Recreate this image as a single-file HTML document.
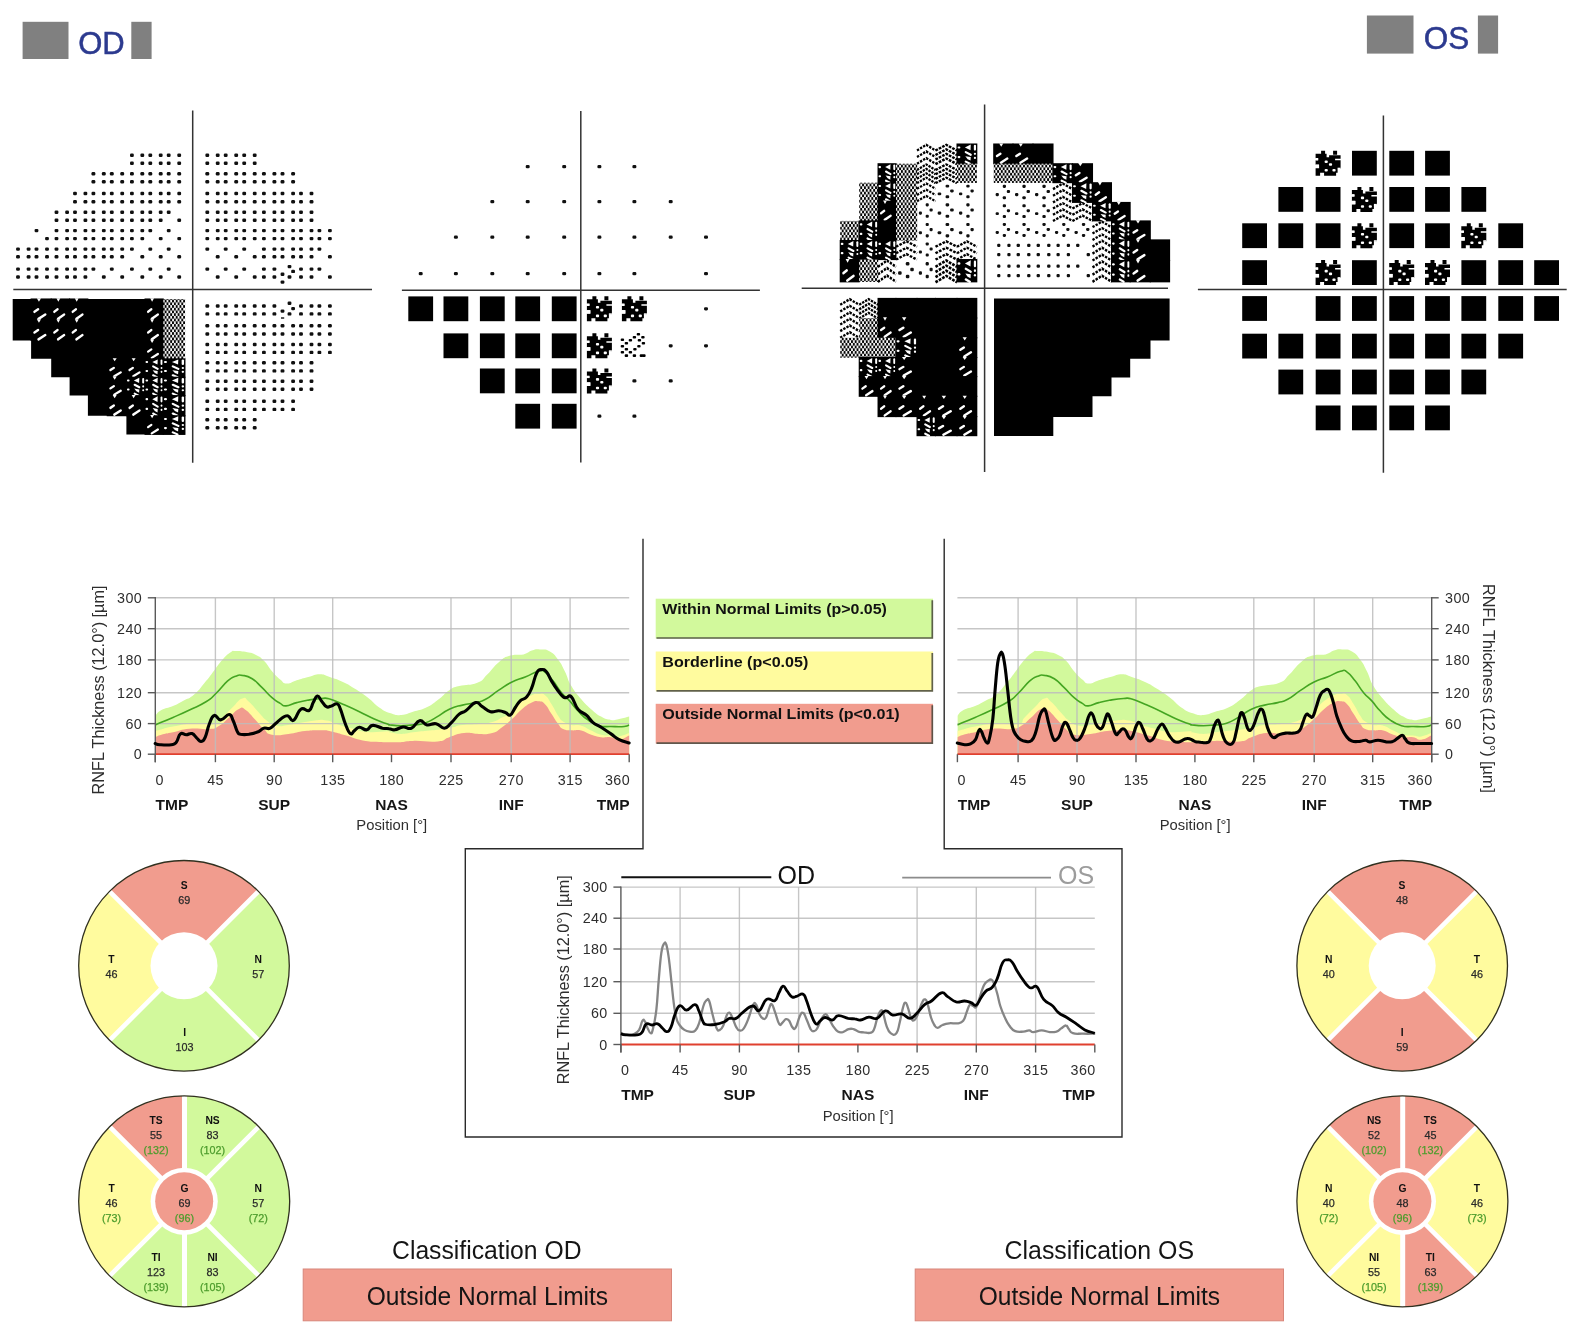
<!DOCTYPE html>
<html><head><meta charset="utf-8"><title>RNFL report</title>
<style>html,body{margin:0;padding:0;background:#fff;}body{width:1576px;height:1338px;overflow:hidden;font-family:"Liberation Sans",sans-serif;}svg{display:block;filter:blur(0.45px);}</style></head>
<body>
<svg width="1576" height="1338" viewBox="0 0 1576 1338" font-family="'Liberation Sans', sans-serif">
<rect width="1576" height="1338" fill="#fff"/>
<rect x="22.6" y="21.8" width="45.9" height="37.2" fill="#808080"/><rect x="131.3" y="21.8" width="20.3" height="37.2" fill="#808080"/><text x="78.2" y="54.4" font-size="31" fill="#2c3a8f" stroke="#2c3a8f" stroke-width="0.5">OD</text><rect x="1366.9" y="15.5" width="46.6" height="38.1" fill="#808080"/><rect x="1477.9" y="15.5" width="20.2" height="38.1" fill="#808080"/><text x="1423.7" y="49.3" font-size="31.5" fill="#2c3a8f" stroke="#2c3a8f" stroke-width="0.5">OS</text>
<defs><g id="dt"><rect x="-1.9" y="-1.7" width="3.8" height="3.4" rx="1.2" fill="#101010"/></g><g id="ds"><rect x="-1.6" y="-1.5" width="3.2" height="3" rx="1.1" fill="#101010"/></g><g id="dt2"><rect x="-2" y="-1.6" width="4" height="3.2" rx="1.3" fill="#101010"/></g><pattern id="chk" width="3.7" height="5.4" patternUnits="userSpaceOnUse"><rect width="3.7" height="5.4" fill="#fff"/><rect x="0" y="0" width="1.95" height="2.8" rx="0.5" fill="#000"/><rect x="1.85" y="2.7" width="1.95" height="2.8" rx="0.5" fill="#000"/><rect x="-1.85" y="2.7" width="1.95" height="2.8" rx="0.5" fill="#000"/></pattern><g id="t1"><use href="#ds" x="5" y="5"/><use href="#ds" x="15" y="13.5"/></g><g id="t2"><use href="#ds" x="5" y="5"/><use href="#ds" x="15" y="5"/><use href="#ds" x="5" y="13.5"/><use href="#ds" x="15" y="13.5"/></g><g id="t3"><use href="#ds" x="10.5" y="3.5"/><use href="#ds" x="14.5" y="8.5"/><use href="#ds" x="3.5" y="11.5"/><use href="#ds" x="10.5" y="14.5"/></g><g id="t4" fill="none" stroke="#000" stroke-width="2.3" stroke-dasharray="2.4 1.2"><path d="M0,6.2 L9.5,0.8 L19,6.2"/><path d="M0,12.6 L9.5,7.2 L19,12.6"/><path d="M0,19 L9.5,13.6 L19,19"/></g><g id="t5" fill="none" stroke="#000" stroke-width="2.3" stroke-dasharray="2.4 1.0"><path d="M0,6.2 L9.5,0.8 L19,6.2"/><path d="M0,10.6 L9.5,5.2 L19,10.6"/><path d="M0,15 L9.5,9.6 L19,15"/><path d="M0,19.4 L9.5,14 L19,19.4"/></g><g id="t6"><rect x="-0.2" y="-0.2" width="19.5" height="19.5" fill="url(#chk)"/></g><g id="t7"><rect x="-0.5" y="-0.5" width="20" height="20" fill="#000"/><g stroke="#fff" stroke-width="2.1" stroke-linecap="round" fill="#fff"><path d="M1.6,3.4 l0.6,0"/><path d="M1.6,12.6 l0.6,0"/><path d="M7.6,3.4 L13.2,0.6 L13,6 Z" stroke="none"/><path d="M17.2,1.8 v3.6"/><path d="M17.2,9.4 l0,0.1"/><path d="M8.4,7.8 L13.2,10.4"/><path d="M8,11.8 L13.2,12.6 L13,16 L10.2,14.6 Z" stroke="none"/><path d="M17.2,13.4 l0,0.1"/><path d="M8.4,17 L12.4,19"/></g></g><g id="t8"><rect x="-0.5" y="-0.5" width="20" height="20" fill="#000"/><path d="M5.4,-0.6 L7.4,2.6 L9.4,-0.6 Z" fill="#fff"/><g stroke="#fff" stroke-width="2.3" stroke-linecap="round"><path d="M3.2,11.6 L6.6,9.3"/><path d="M7,18 L13.4,14"/></g></g><g id="t9"><rect x="-0.5" y="-0.5" width="20" height="20" fill="#000"/></g><g id="sq"><rect x="-12.4" y="-12.4" width="24.8" height="24.8" fill="#000"/></g><g id="hs"><path fill="#000" d="M-7,-12.5 h4 v4 h-4 z M5,-12.5 h4 v4 h-4 z M-12.5,-9.5 h11 v4.5 h-11 z M1,-8 h11.5 v3.5 h-11.5 z M-10,-6 h17 v4 h-17 z M-12.5,-3 h25 v4.5 h-25 z M-9,1 h21.5 v4.5 h-21.5 z M-12.5,5 h22 v4.5 h-22 z M-12.5,8.5 h4.5 v4 h-4.5 z M-4,8.5 h12 v4 h-12 z"/><g fill="#fff"><rect x="-3.5" y="-2.8" width="3.2" height="2.6" rx="1"/><rect x="0.8" y="0" width="3.2" height="2.6" rx="1"/><rect x="-3.5" y="5.8" width="3.2" height="2.6" rx="1"/><rect x="4.3" y="5.8" width="3.2" height="2.6" rx="1"/><rect x="-12.5" y="-5.2" width="2.6" height="2.4"/><rect x="-12.5" y="1.3" width="3.4" height="3.4"/><rect x="9.5" y="4.5" width="3" height="1.5"/></g></g><g id="dg"><rect x="2.3" y="-12.8" width="3.4" height="2.6" rx="1" fill="#000"/><rect x="-1.7" y="-9.8" width="3.4" height="2.6" rx="1" fill="#000"/><rect x="6.8" y="-9.8" width="3.4" height="2.6" rx="1" fill="#000"/><rect x="-5.7" y="-6.8" width="3.4" height="2.6" rx="1" fill="#000"/><rect x="3.3" y="-6.8" width="3.4" height="2.6" rx="1" fill="#000"/><rect x="-13.7" y="-7.3" width="3.4" height="2.6" rx="1" fill="#000"/><rect x="-9.7" y="-3.8" width="3.4" height="2.6" rx="1" fill="#000"/><rect x="7.3" y="-3.8" width="3.4" height="2.6" rx="1" fill="#000"/><rect x="-13.7" y="-0.8" width="3.4" height="2.6" rx="1" fill="#000"/><rect x="2.8" y="-0.8" width="3.4" height="2.6" rx="1" fill="#000"/><rect x="-9.7" y="2.2" width="3.4" height="2.6" rx="1" fill="#000"/><rect x="-1.2" y="2.2" width="3.4" height="2.6" rx="1" fill="#000"/><rect x="-13.7" y="5.2" width="3.4" height="2.6" rx="1" fill="#000"/><rect x="-5.7" y="5.2" width="3.4" height="2.6" rx="1" fill="#000"/><rect x="-9.7" y="8.5" width="3.4" height="2.6" rx="1" fill="#000"/><rect x="-1.7" y="8.5" width="3.4" height="2.6" rx="1" fill="#000"/><rect x="5.3" y="8.5" width="3.4" height="2.6" rx="1" fill="#000"/><rect x="7.8" y="8.5" width="3.4" height="2.6" rx="1" fill="#000"/></g></defs><line x1="192.7" y1="110.5" x2="192.7" y2="462.8" stroke="#333" stroke-width="1.5"/><line x1="13.3" y1="289.4" x2="372.0" y2="289.4" stroke="#333" stroke-width="1.5"/><use href="#dt" x="131.9" y="155.2"/><use href="#dt" x="142.3" y="155.2"/><use href="#dt" x="150.3" y="155.2"/><use href="#dt" x="160.7" y="155.2"/><use href="#dt" x="168.7" y="155.2"/><use href="#dt" x="179.2" y="155.2"/><use href="#dt" x="131.9" y="163.3"/><use href="#dt" x="142.3" y="163.3"/><use href="#dt" x="150.3" y="163.3"/><use href="#dt" x="160.7" y="163.3"/><use href="#dt" x="168.7" y="163.3"/><use href="#dt" x="179.2" y="163.3"/><use href="#dt" x="93.4" y="173.8"/><use href="#dt" x="103.8" y="173.8"/><use href="#dt" x="111.8" y="173.8"/><use href="#dt" x="122.2" y="173.8"/><use href="#dt" x="131.9" y="173.8"/><use href="#dt" x="142.3" y="173.8"/><use href="#dt" x="150.3" y="173.8"/><use href="#dt" x="160.7" y="173.8"/><use href="#dt" x="168.7" y="173.8"/><use href="#dt" x="179.2" y="173.8"/><use href="#dt" x="93.4" y="181.7"/><use href="#dt" x="103.8" y="181.7"/><use href="#dt" x="111.8" y="181.7"/><use href="#dt" x="122.2" y="181.7"/><use href="#dt" x="131.9" y="181.7"/><use href="#dt" x="142.3" y="181.7"/><use href="#dt" x="150.3" y="181.7"/><use href="#dt" x="160.7" y="181.7"/><use href="#dt" x="168.7" y="181.7"/><use href="#dt" x="179.2" y="181.7"/><use href="#dt" x="75.0" y="193.5"/><use href="#dt" x="85.4" y="193.5"/><use href="#dt" x="93.4" y="193.5"/><use href="#dt" x="103.8" y="193.5"/><use href="#dt" x="111.8" y="193.5"/><use href="#dt" x="122.2" y="193.5"/><use href="#dt" x="131.9" y="193.5"/><use href="#dt" x="142.3" y="193.5"/><use href="#dt" x="150.3" y="193.5"/><use href="#dt" x="160.7" y="193.5"/><use href="#dt" x="168.7" y="193.5"/><use href="#dt" x="179.2" y="193.5"/><use href="#dt" x="75.0" y="201.8"/><use href="#dt" x="85.4" y="201.8"/><use href="#dt" x="93.4" y="201.8"/><use href="#dt" x="103.8" y="201.8"/><use href="#dt" x="111.8" y="201.8"/><use href="#dt" x="122.2" y="201.8"/><use href="#dt" x="131.9" y="201.8"/><use href="#dt" x="142.3" y="201.8"/><use href="#dt" x="150.3" y="201.8"/><use href="#dt" x="160.7" y="201.8"/><use href="#dt" x="168.7" y="201.8"/><use href="#dt" x="179.2" y="201.8"/><use href="#dt" x="56.5" y="212.3"/><use href="#dt" x="67.1" y="212.3"/><use href="#dt" x="75.0" y="212.3"/><use href="#dt" x="85.4" y="212.3"/><use href="#dt" x="93.4" y="212.3"/><use href="#dt" x="103.8" y="212.3"/><use href="#dt" x="111.8" y="212.3"/><use href="#dt" x="122.2" y="212.3"/><use href="#dt" x="131.9" y="212.3"/><use href="#dt" x="142.3" y="212.3"/><use href="#dt" x="150.3" y="212.3"/><use href="#dt" x="160.7" y="212.3"/><use href="#dt" x="168.7" y="212.3"/><use href="#dt" x="56.5" y="220.2"/><use href="#dt" x="67.1" y="220.2"/><use href="#dt" x="75.0" y="220.2"/><use href="#dt" x="85.4" y="220.2"/><use href="#dt" x="93.4" y="220.2"/><use href="#dt" x="103.8" y="220.2"/><use href="#dt" x="111.8" y="220.2"/><use href="#dt" x="122.2" y="220.2"/><use href="#dt" x="131.9" y="220.2"/><use href="#dt" x="142.3" y="220.2"/><use href="#dt" x="150.3" y="220.2"/><use href="#dt" x="160.7" y="220.2"/><use href="#dt" x="179.2" y="220.2"/><use href="#dt" x="36.5" y="230.6"/><use href="#dt" x="56.5" y="230.6"/><use href="#dt" x="67.1" y="230.6"/><use href="#dt" x="75.0" y="230.6"/><use href="#dt" x="85.4" y="230.6"/><use href="#dt" x="93.4" y="230.6"/><use href="#dt" x="103.8" y="230.6"/><use href="#dt" x="111.8" y="230.6"/><use href="#dt" x="122.2" y="230.6"/><use href="#dt" x="131.9" y="230.6"/><use href="#dt" x="142.3" y="230.6"/><use href="#dt" x="150.3" y="230.6"/><use href="#dt" x="168.7" y="230.6"/><use href="#dt" x="47.0" y="238.6"/><use href="#dt" x="56.5" y="238.6"/><use href="#dt" x="67.1" y="238.6"/><use href="#dt" x="75.0" y="238.6"/><use href="#dt" x="85.4" y="238.6"/><use href="#dt" x="93.4" y="238.6"/><use href="#dt" x="103.8" y="238.6"/><use href="#dt" x="111.8" y="238.6"/><use href="#dt" x="122.2" y="238.6"/><use href="#dt" x="131.9" y="238.6"/><use href="#dt" x="142.3" y="238.6"/><use href="#dt" x="160.7" y="238.6"/><use href="#dt" x="179.2" y="238.6"/><use href="#dt" x="18.0" y="249.1"/><use href="#dt" x="28.6" y="249.1"/><use href="#dt" x="36.5" y="249.1"/><use href="#dt" x="47.0" y="249.1"/><use href="#dt" x="56.5" y="249.1"/><use href="#dt" x="67.1" y="249.1"/><use href="#dt" x="75.0" y="249.1"/><use href="#dt" x="85.4" y="249.1"/><use href="#dt" x="93.4" y="249.1"/><use href="#dt" x="103.8" y="249.1"/><use href="#dt" x="111.8" y="249.1"/><use href="#dt" x="122.2" y="249.1"/><use href="#dt" x="131.9" y="249.1"/><use href="#dt" x="150.3" y="249.1"/><use href="#dt" x="168.7" y="249.1"/><use href="#dt" x="18.0" y="256.8"/><use href="#dt" x="28.6" y="256.8"/><use href="#dt" x="36.5" y="256.8"/><use href="#dt" x="47.0" y="256.8"/><use href="#dt" x="56.5" y="256.8"/><use href="#dt" x="67.1" y="256.8"/><use href="#dt" x="75.0" y="256.8"/><use href="#dt" x="85.4" y="256.8"/><use href="#dt" x="93.4" y="256.8"/><use href="#dt" x="103.8" y="256.8"/><use href="#dt" x="111.8" y="256.8"/><use href="#dt" x="122.2" y="256.8"/><use href="#dt" x="142.3" y="256.8"/><use href="#dt" x="160.7" y="256.8"/><use href="#dt" x="179.2" y="256.8"/><use href="#dt" x="18.0" y="269.1"/><use href="#dt" x="28.6" y="269.1"/><use href="#dt" x="36.5" y="269.1"/><use href="#dt" x="47.0" y="269.1"/><use href="#dt" x="56.5" y="269.1"/><use href="#dt" x="67.1" y="269.1"/><use href="#dt" x="75.0" y="269.1"/><use href="#dt" x="85.4" y="269.1"/><use href="#dt" x="93.4" y="269.1"/><use href="#dt" x="111.8" y="269.1"/><use href="#dt" x="131.9" y="269.1"/><use href="#dt" x="150.3" y="269.1"/><use href="#dt" x="168.7" y="269.1"/><use href="#dt" x="18.0" y="277.0"/><use href="#dt" x="28.6" y="277.0"/><use href="#dt" x="36.5" y="277.0"/><use href="#dt" x="47.0" y="277.0"/><use href="#dt" x="56.5" y="277.0"/><use href="#dt" x="67.1" y="277.0"/><use href="#dt" x="75.0" y="277.0"/><use href="#dt" x="85.4" y="277.0"/><use href="#dt" x="103.8" y="277.0"/><use href="#dt" x="122.2" y="277.0"/><use href="#dt" x="142.3" y="277.0"/><use href="#dt" x="160.7" y="277.0"/><use href="#dt" x="179.2" y="277.0"/><use href="#dt" x="207.3" y="155.2"/><use href="#dt" x="217.7" y="155.2"/><use href="#dt" x="225.7" y="155.2"/><use href="#dt" x="236.2" y="155.2"/><use href="#dt" x="244.2" y="155.2"/><use href="#dt" x="254.7" y="155.2"/><use href="#dt" x="207.3" y="163.3"/><use href="#dt" x="217.7" y="163.3"/><use href="#dt" x="225.7" y="163.3"/><use href="#dt" x="236.2" y="163.3"/><use href="#dt" x="244.2" y="163.3"/><use href="#dt" x="254.7" y="163.3"/><use href="#dt" x="207.3" y="173.8"/><use href="#dt" x="217.7" y="173.8"/><use href="#dt" x="225.7" y="173.8"/><use href="#dt" x="236.2" y="173.8"/><use href="#dt" x="244.2" y="173.8"/><use href="#dt" x="254.7" y="173.8"/><use href="#dt" x="263.9" y="173.8"/><use href="#dt" x="274.4" y="173.8"/><use href="#dt" x="282.5" y="173.8"/><use href="#dt" x="293.1" y="173.8"/><use href="#dt" x="207.3" y="181.7"/><use href="#dt" x="217.7" y="181.7"/><use href="#dt" x="225.7" y="181.7"/><use href="#dt" x="236.2" y="181.7"/><use href="#dt" x="244.2" y="181.7"/><use href="#dt" x="254.7" y="181.7"/><use href="#dt" x="263.9" y="181.7"/><use href="#dt" x="274.4" y="181.7"/><use href="#dt" x="282.5" y="181.7"/><use href="#dt" x="293.1" y="181.7"/><use href="#dt" x="207.3" y="193.5"/><use href="#dt" x="217.7" y="193.5"/><use href="#dt" x="225.7" y="193.5"/><use href="#dt" x="236.2" y="193.5"/><use href="#dt" x="244.2" y="193.5"/><use href="#dt" x="254.7" y="193.5"/><use href="#dt" x="263.9" y="193.5"/><use href="#dt" x="274.4" y="193.5"/><use href="#dt" x="282.5" y="193.5"/><use href="#dt" x="293.1" y="193.5"/><use href="#dt" x="301.0" y="193.5"/><use href="#dt" x="311.5" y="193.5"/><use href="#dt" x="207.3" y="201.8"/><use href="#dt" x="217.7" y="201.8"/><use href="#dt" x="225.7" y="201.8"/><use href="#dt" x="236.2" y="201.8"/><use href="#dt" x="244.2" y="201.8"/><use href="#dt" x="254.7" y="201.8"/><use href="#dt" x="263.9" y="201.8"/><use href="#dt" x="274.4" y="201.8"/><use href="#dt" x="282.5" y="201.8"/><use href="#dt" x="293.1" y="201.8"/><use href="#dt" x="301.0" y="201.8"/><use href="#dt" x="311.5" y="201.8"/><use href="#dt" x="207.3" y="212.3"/><use href="#dt" x="217.7" y="212.3"/><use href="#dt" x="225.7" y="212.3"/><use href="#dt" x="236.2" y="212.3"/><use href="#dt" x="244.2" y="212.3"/><use href="#dt" x="254.7" y="212.3"/><use href="#dt" x="263.9" y="212.3"/><use href="#dt" x="274.4" y="212.3"/><use href="#dt" x="282.5" y="212.3"/><use href="#dt" x="293.1" y="212.3"/><use href="#dt" x="301.0" y="212.3"/><use href="#dt" x="311.5" y="212.3"/><use href="#dt" x="207.3" y="220.2"/><use href="#dt" x="217.7" y="220.2"/><use href="#dt" x="225.7" y="220.2"/><use href="#dt" x="236.2" y="220.2"/><use href="#dt" x="244.2" y="220.2"/><use href="#dt" x="254.7" y="220.2"/><use href="#dt" x="263.9" y="220.2"/><use href="#dt" x="274.4" y="220.2"/><use href="#dt" x="282.5" y="220.2"/><use href="#dt" x="293.1" y="220.2"/><use href="#dt" x="301.0" y="220.2"/><use href="#dt" x="311.5" y="220.2"/><use href="#dt" x="207.3" y="230.6"/><use href="#dt" x="217.7" y="230.6"/><use href="#dt" x="225.7" y="230.6"/><use href="#dt" x="236.2" y="230.6"/><use href="#dt" x="244.2" y="230.6"/><use href="#dt" x="254.7" y="230.6"/><use href="#dt" x="263.9" y="230.6"/><use href="#dt" x="274.4" y="230.6"/><use href="#dt" x="282.5" y="230.6"/><use href="#dt" x="293.1" y="230.6"/><use href="#dt" x="301.0" y="230.6"/><use href="#dt" x="311.5" y="230.6"/><use href="#dt" x="319.4" y="230.6"/><use href="#dt" x="329.9" y="230.6"/><use href="#dt" x="207.3" y="238.6"/><use href="#dt" x="217.7" y="238.6"/><use href="#dt" x="225.7" y="238.6"/><use href="#dt" x="236.2" y="238.6"/><use href="#dt" x="244.2" y="238.6"/><use href="#dt" x="254.7" y="238.6"/><use href="#dt" x="263.9" y="238.6"/><use href="#dt" x="274.4" y="238.6"/><use href="#dt" x="282.5" y="238.6"/><use href="#dt" x="293.1" y="238.6"/><use href="#dt" x="301.0" y="238.6"/><use href="#dt" x="311.5" y="238.6"/><use href="#dt" x="319.4" y="238.6"/><use href="#dt" x="329.9" y="238.6"/><use href="#dt" x="207.3" y="249.1"/><use href="#dt" x="225.7" y="249.1"/><use href="#dt" x="244.2" y="249.1"/><use href="#dt" x="263.9" y="249.1"/><use href="#dt" x="274.4" y="249.1"/><use href="#dt" x="282.5" y="249.1"/><use href="#dt" x="293.1" y="249.1"/><use href="#dt" x="301.0" y="249.1"/><use href="#dt" x="311.5" y="249.1"/><use href="#dt" x="319.4" y="249.1"/><use href="#dt" x="217.7" y="256.8"/><use href="#dt" x="236.2" y="256.8"/><use href="#dt" x="254.7" y="256.8"/><use href="#dt" x="263.9" y="256.8"/><use href="#dt" x="274.4" y="256.8"/><use href="#dt" x="282.5" y="256.8"/><use href="#dt" x="293.1" y="256.8"/><use href="#dt" x="301.0" y="256.8"/><use href="#dt" x="311.5" y="256.8"/><use href="#dt" x="329.9" y="256.8"/><use href="#dt" x="207.3" y="269.1"/><use href="#dt" x="225.7" y="269.1"/><use href="#dt" x="244.2" y="269.1"/><use href="#dt" x="263.9" y="269.1"/><use href="#dt" x="274.4" y="269.1"/><use href="#dt" x="301.0" y="269.1"/><use href="#dt" x="311.5" y="269.1"/><use href="#dt" x="319.4" y="269.1"/><use href="#dt" x="217.7" y="277.0"/><use href="#dt" x="236.2" y="277.0"/><use href="#dt" x="254.7" y="277.0"/><use href="#dt" x="263.9" y="277.0"/><use href="#dt" x="274.4" y="277.0"/><use href="#dt" x="301.0" y="277.0"/><use href="#dt" x="311.5" y="277.0"/><use href="#dt" x="329.9" y="277.0"/><use href="#dt" x="289.5" y="266.6"/><use href="#dt" x="293.1" y="271.4"/><use href="#dt" x="282.5" y="274.2"/><use href="#dt" x="289.5" y="277.0"/><use href="#dt" x="282.5" y="282.1"/><use href="#dt" x="289.5" y="303.2"/><use href="#dt" x="293.1" y="308.6"/><use href="#dt" x="282.5" y="311.1"/><use href="#dt" x="289.5" y="313.9"/><rect x="281" y="317.3" width="3.2" height="1.4" fill="#101010"/><use href="#dt" x="207.3" y="306.0"/><use href="#dt" x="217.7" y="306.0"/><use href="#dt" x="225.7" y="306.0"/><use href="#dt" x="236.2" y="306.0"/><use href="#dt" x="244.2" y="306.0"/><use href="#dt" x="254.7" y="306.0"/><use href="#dt" x="263.9" y="306.0"/><use href="#dt" x="274.4" y="306.0"/><use href="#dt" x="301.0" y="306.0"/><use href="#dt" x="311.5" y="306.0"/><use href="#dt" x="319.4" y="306.0"/><use href="#dt" x="329.9" y="306.0"/><use href="#dt" x="207.3" y="313.9"/><use href="#dt" x="217.7" y="313.9"/><use href="#dt" x="225.7" y="313.9"/><use href="#dt" x="236.2" y="313.9"/><use href="#dt" x="244.2" y="313.9"/><use href="#dt" x="254.7" y="313.9"/><use href="#dt" x="263.9" y="313.9"/><use href="#dt" x="274.4" y="313.9"/><use href="#dt" x="301.0" y="313.9"/><use href="#dt" x="311.5" y="313.9"/><use href="#dt" x="319.4" y="313.9"/><use href="#dt" x="329.9" y="313.9"/><use href="#dt" x="207.3" y="325.7"/><use href="#dt" x="217.7" y="325.7"/><use href="#dt" x="225.7" y="325.7"/><use href="#dt" x="236.2" y="325.7"/><use href="#dt" x="244.2" y="325.7"/><use href="#dt" x="254.7" y="325.7"/><use href="#dt" x="263.9" y="325.7"/><use href="#dt" x="274.4" y="325.7"/><use href="#dt" x="282.5" y="325.7"/><use href="#dt" x="293.1" y="325.7"/><use href="#dt" x="301.0" y="325.7"/><use href="#dt" x="311.5" y="325.7"/><use href="#dt" x="319.4" y="325.7"/><use href="#dt" x="329.9" y="325.7"/><use href="#dt" x="207.3" y="334.0"/><use href="#dt" x="217.7" y="334.0"/><use href="#dt" x="225.7" y="334.0"/><use href="#dt" x="236.2" y="334.0"/><use href="#dt" x="244.2" y="334.0"/><use href="#dt" x="254.7" y="334.0"/><use href="#dt" x="263.9" y="334.0"/><use href="#dt" x="274.4" y="334.0"/><use href="#dt" x="282.5" y="334.0"/><use href="#dt" x="293.1" y="334.0"/><use href="#dt" x="301.0" y="334.0"/><use href="#dt" x="311.5" y="334.0"/><use href="#dt" x="319.4" y="334.0"/><use href="#dt" x="329.9" y="334.0"/><use href="#dt" x="207.3" y="344.5"/><use href="#dt" x="217.7" y="344.5"/><use href="#dt" x="225.7" y="344.5"/><use href="#dt" x="236.2" y="344.5"/><use href="#dt" x="244.2" y="344.5"/><use href="#dt" x="254.7" y="344.5"/><use href="#dt" x="263.9" y="344.5"/><use href="#dt" x="274.4" y="344.5"/><use href="#dt" x="282.5" y="344.5"/><use href="#dt" x="293.1" y="344.5"/><use href="#dt" x="301.0" y="344.5"/><use href="#dt" x="311.5" y="344.5"/><use href="#dt" x="319.4" y="344.5"/><use href="#dt" x="329.9" y="344.5"/><use href="#dt" x="207.3" y="352.4"/><use href="#dt" x="217.7" y="352.4"/><use href="#dt" x="225.7" y="352.4"/><use href="#dt" x="236.2" y="352.4"/><use href="#dt" x="244.2" y="352.4"/><use href="#dt" x="254.7" y="352.4"/><use href="#dt" x="263.9" y="352.4"/><use href="#dt" x="274.4" y="352.4"/><use href="#dt" x="282.5" y="352.4"/><use href="#dt" x="293.1" y="352.4"/><use href="#dt" x="301.0" y="352.4"/><use href="#dt" x="311.5" y="352.4"/><use href="#dt" x="319.4" y="352.4"/><use href="#dt" x="329.9" y="352.4"/><use href="#dt" x="207.3" y="362.8"/><use href="#dt" x="217.7" y="362.8"/><use href="#dt" x="225.7" y="362.8"/><use href="#dt" x="236.2" y="362.8"/><use href="#dt" x="244.2" y="362.8"/><use href="#dt" x="254.7" y="362.8"/><use href="#dt" x="263.9" y="362.8"/><use href="#dt" x="274.4" y="362.8"/><use href="#dt" x="282.5" y="362.8"/><use href="#dt" x="293.1" y="362.8"/><use href="#dt" x="301.0" y="362.8"/><use href="#dt" x="311.5" y="362.8"/><use href="#dt" x="207.3" y="370.9"/><use href="#dt" x="217.7" y="370.9"/><use href="#dt" x="225.7" y="370.9"/><use href="#dt" x="236.2" y="370.9"/><use href="#dt" x="244.2" y="370.9"/><use href="#dt" x="254.7" y="370.9"/><use href="#dt" x="263.9" y="370.9"/><use href="#dt" x="274.4" y="370.9"/><use href="#dt" x="282.5" y="370.9"/><use href="#dt" x="293.1" y="370.9"/><use href="#dt" x="301.0" y="370.9"/><use href="#dt" x="311.5" y="370.9"/><use href="#dt" x="207.3" y="381.3"/><use href="#dt" x="217.7" y="381.3"/><use href="#dt" x="225.7" y="381.3"/><use href="#dt" x="236.2" y="381.3"/><use href="#dt" x="244.2" y="381.3"/><use href="#dt" x="254.7" y="381.3"/><use href="#dt" x="263.9" y="381.3"/><use href="#dt" x="274.4" y="381.3"/><use href="#dt" x="282.5" y="381.3"/><use href="#dt" x="293.1" y="381.3"/><use href="#dt" x="301.0" y="381.3"/><use href="#dt" x="311.5" y="381.3"/><use href="#dt" x="207.3" y="389.3"/><use href="#dt" x="217.7" y="389.3"/><use href="#dt" x="225.7" y="389.3"/><use href="#dt" x="236.2" y="389.3"/><use href="#dt" x="244.2" y="389.3"/><use href="#dt" x="254.7" y="389.3"/><use href="#dt" x="263.9" y="389.3"/><use href="#dt" x="274.4" y="389.3"/><use href="#dt" x="282.5" y="389.3"/><use href="#dt" x="293.1" y="389.3"/><use href="#dt" x="301.0" y="389.3"/><use href="#dt" x="311.5" y="389.3"/><use href="#dt" x="207.3" y="401.3"/><use href="#dt" x="217.7" y="401.3"/><use href="#dt" x="225.7" y="401.3"/><use href="#dt" x="236.2" y="401.3"/><use href="#dt" x="244.2" y="401.3"/><use href="#dt" x="254.7" y="401.3"/><use href="#dt" x="263.9" y="401.3"/><use href="#dt" x="274.4" y="401.3"/><use href="#dt" x="282.5" y="401.3"/><use href="#dt" x="293.1" y="401.3"/><use href="#dt" x="207.3" y="409.4"/><use href="#dt" x="217.7" y="409.4"/><use href="#dt" x="225.7" y="409.4"/><use href="#dt" x="236.2" y="409.4"/><use href="#dt" x="244.2" y="409.4"/><use href="#dt" x="254.7" y="409.4"/><use href="#dt" x="263.9" y="409.4"/><use href="#dt" x="274.4" y="409.4"/><use href="#dt" x="282.5" y="409.4"/><use href="#dt" x="293.1" y="409.4"/><use href="#dt" x="207.3" y="419.8"/><use href="#dt" x="217.7" y="419.8"/><use href="#dt" x="225.7" y="419.8"/><use href="#dt" x="236.2" y="419.8"/><use href="#dt" x="244.2" y="419.8"/><use href="#dt" x="254.7" y="419.8"/><use href="#dt" x="207.3" y="427.8"/><use href="#dt" x="217.7" y="427.8"/><use href="#dt" x="225.7" y="427.8"/><use href="#dt" x="236.2" y="427.8"/><use href="#dt" x="244.2" y="427.8"/><use href="#dt" x="254.7" y="427.8"/><path fill="#000" d="M12.7,299 H184.9 V434.4 H126.4 V415.7 H87.9 V395.6 H69.6 V377.2 H51.2 V358.8 H31.1 V340.4 H12.7 Z"/><use href="#t8" transform="translate(31.1,299.0) scale(1.058,1.105)"/><use href="#t8" transform="translate(51.2,299.0) scale(0.968,1.105)"/><use href="#t8" transform="translate(69.6,299.0) scale(0.963,1.105)"/><use href="#t8" transform="translate(145.0,299.0) scale(0.963,1.105)"/><rect x="163.3" y="299.0" width="21.8" height="21.2" fill="url(#chk)"/><use href="#t8" transform="translate(31.1,320.0) scale(1.058,1.074)"/><use href="#t8" transform="translate(51.2,320.0) scale(0.968,1.074)"/><use href="#t8" transform="translate(69.6,320.0) scale(0.963,1.074)"/><use href="#t8" transform="translate(145.0,320.0) scale(0.963,1.074)"/><rect x="163.3" y="320.0" width="21.8" height="20.6" fill="url(#chk)"/><use href="#t8" transform="translate(145.0,340.4) scale(0.963,0.968)"/><rect x="163.3" y="340.4" width="21.8" height="18.6" fill="url(#chk)"/><use href="#t8" transform="translate(107.2,358.8) scale(1.011,0.968)"/><use href="#t8" transform="translate(126.4,358.8) scale(0.979,0.968)"/><use href="#t7" transform="translate(145.0,358.8) scale(0.963,0.968)"/><use href="#t7" transform="translate(163.3,358.8) scale(1.137,0.968)"/><use href="#t8" transform="translate(107.2,377.2) scale(1.011,0.968)"/><use href="#t7" transform="translate(126.4,377.2) scale(0.979,0.968)"/><use href="#t7" transform="translate(145.0,377.2) scale(0.963,0.968)"/><use href="#t7" transform="translate(163.3,377.2) scale(1.137,0.968)"/><use href="#t8" transform="translate(107.2,395.6) scale(1.011,1.058)"/><use href="#t8" transform="translate(126.4,395.6) scale(0.979,1.058)"/><use href="#t7" transform="translate(145.0,395.6) scale(0.963,1.058)"/><use href="#t7" transform="translate(163.3,395.6) scale(1.137,1.058)"/><use href="#t8" transform="translate(145.0,415.7) scale(0.963,0.984)"/><use href="#t7" transform="translate(163.3,415.7) scale(1.137,0.984)"/><line x1="580.8" y1="111.0" x2="580.8" y2="462.6" stroke="#333" stroke-width="1.5"/><line x1="401.9" y1="290.3" x2="759.9" y2="290.3" stroke="#333" stroke-width="1.5"/><use href="#dt2" x="527.7" y="166.7"/><use href="#dt2" x="564.2" y="166.7"/><use href="#dt2" x="599.4" y="166.7"/><use href="#dt2" x="634.4" y="166.7"/><use href="#dt2" x="492.3" y="201.7"/><use href="#dt2" x="527.7" y="201.7"/><use href="#dt2" x="564.2" y="201.7"/><use href="#dt2" x="599.4" y="201.7"/><use href="#dt2" x="634.4" y="201.7"/><use href="#dt2" x="670.7" y="201.7"/><use href="#dt2" x="455.9" y="237.2"/><use href="#dt2" x="492.3" y="237.2"/><use href="#dt2" x="527.7" y="237.2"/><use href="#dt2" x="564.2" y="237.2"/><use href="#dt2" x="599.4" y="237.2"/><use href="#dt2" x="634.4" y="237.2"/><use href="#dt2" x="670.7" y="237.2"/><use href="#dt2" x="706.0" y="237.2"/><use href="#dt2" x="420.7" y="273.7"/><use href="#dt2" x="455.9" y="273.7"/><use href="#dt2" x="492.3" y="273.7"/><use href="#dt2" x="527.7" y="273.7"/><use href="#dt2" x="564.2" y="273.7"/><use href="#dt2" x="599.4" y="273.7"/><use href="#dt2" x="634.4" y="273.7"/><use href="#dt2" x="706.0" y="273.7"/><use href="#sq" x="420.7" y="308.8"/><use href="#sq" x="455.9" y="308.8"/><use href="#sq" x="492.3" y="308.8"/><use href="#sq" x="527.7" y="308.8"/><use href="#sq" x="564.2" y="308.8"/><use href="#hs" x="599.4" y="308.8"/><use href="#hs" x="634.4" y="308.8"/><use href="#dt2" x="706.0" y="308.8"/><use href="#sq" x="455.9" y="345.8"/><use href="#sq" x="492.3" y="345.8"/><use href="#sq" x="527.7" y="345.8"/><use href="#sq" x="564.2" y="345.8"/><use href="#hs" x="599.4" y="345.8"/><use href="#dg" x="634.4" y="345.8"/><use href="#dt2" x="670.7" y="345.8"/><use href="#dt2" x="706.0" y="345.8"/><use href="#sq" x="492.3" y="380.9"/><use href="#sq" x="527.7" y="380.9"/><use href="#sq" x="564.2" y="380.9"/><use href="#hs" x="599.4" y="380.9"/><use href="#dt2" x="634.4" y="380.9"/><use href="#dt2" x="670.7" y="380.9"/><use href="#sq" x="527.7" y="416.2"/><use href="#sq" x="564.2" y="416.2"/><use href="#dt2" x="599.4" y="416.2"/><use href="#dt2" x="634.4" y="416.2"/><line x1="984.6" y1="104.6" x2="984.6" y2="472.0" stroke="#333" stroke-width="1.5"/><line x1="801.7" y1="288.3" x2="1168.0" y2="288.3" stroke="#333" stroke-width="1.5"/><use href="#t4" transform="translate(917.0,144.0) scale(0.974,1.037)"/><use href="#t5" transform="translate(935.5,144.0) scale(1.132,1.037)"/><use href="#t7" transform="translate(957.0,144.0) scale(1.042,1.037)"/><use href="#t7" transform="translate(878.0,163.7) scale(0.947,1.000)"/><rect x="896.0" y="163.7" width="21.2" height="19.2" fill="url(#chk)"/><use href="#t5" transform="translate(917.0,163.7) scale(0.974,1.000)"/><use href="#t5" transform="translate(935.5,163.7) scale(1.132,1.000)"/><rect x="957.0" y="163.7" width="20.0" height="19.2" fill="url(#chk)"/><rect x="859.2" y="182.7" width="19.0" height="18.7" fill="url(#chk)"/><use href="#t7" transform="translate(878.0,182.7) scale(0.947,0.974)"/><rect x="896.0" y="182.7" width="21.2" height="18.7" fill="url(#chk)"/><use href="#t4" transform="translate(917.0,182.7) scale(0.974,0.974)"/><use href="#t3" transform="translate(935.5,182.7) scale(1.132,0.974)"/><use href="#t3" transform="translate(957.0,182.7) scale(1.042,0.974)"/><rect x="859.2" y="201.2" width="19.0" height="19.9" fill="url(#chk)"/><use href="#t8" transform="translate(878.0,201.2) scale(0.947,1.037)"/><rect x="896.0" y="201.2" width="21.2" height="19.9" fill="url(#chk)"/><use href="#t3" transform="translate(917.0,201.2) scale(0.974,1.037)"/><use href="#t3" transform="translate(935.5,201.2) scale(1.132,1.037)"/><use href="#t3" transform="translate(957.0,201.2) scale(1.042,1.037)"/><rect x="840.2" y="220.9" width="19.2" height="19.8" fill="url(#chk)"/><use href="#t7" transform="translate(859.2,220.9) scale(0.989,1.032)"/><use href="#t9" transform="translate(878.0,220.9) scale(0.947,1.032)"/><rect x="896.0" y="220.9" width="21.2" height="19.8" fill="url(#chk)"/><use href="#t3" transform="translate(917.0,220.9) scale(0.974,1.032)"/><use href="#t3" transform="translate(935.5,220.9) scale(1.132,1.032)"/><use href="#t3" transform="translate(957.0,220.9) scale(1.042,1.032)"/><use href="#t7" transform="translate(840.2,240.5) scale(1.000,1.005)"/><use href="#t7" transform="translate(859.2,240.5) scale(0.989,1.005)"/><use href="#t7" transform="translate(878.0,240.5) scale(0.947,1.005)"/><use href="#t4" transform="translate(896.0,240.5) scale(1.105,1.005)"/><use href="#t3" transform="translate(917.0,240.5) scale(0.974,1.005)"/><use href="#t4" transform="translate(935.5,240.5) scale(1.132,1.005)"/><use href="#t4" transform="translate(957.0,240.5) scale(1.042,1.005)"/><use href="#t8" transform="translate(840.2,259.6) scale(1.000,1.168)"/><rect x="859.2" y="259.6" width="19.0" height="22.4" fill="url(#chk)"/><use href="#t4" transform="translate(878.0,259.6) scale(0.947,1.168)"/><use href="#t3" transform="translate(896.0,259.6) scale(1.105,1.168)"/><use href="#t3" transform="translate(917.0,259.6) scale(0.974,1.168)"/><use href="#t5" transform="translate(935.5,259.6) scale(1.132,1.168)"/><use href="#t7" transform="translate(957.0,259.6) scale(1.042,1.168)"/><use href="#t8" transform="translate(993.7,144.0) scale(1.016,1.037)"/><use href="#t8" transform="translate(1013.0,144.0) scale(1.053,1.037)"/><use href="#t9" transform="translate(1033.0,144.0) scale(1.053,1.037)"/><rect x="993.7" y="163.7" width="19.5" height="19.2" fill="url(#chk)"/><rect x="1013.0" y="163.7" width="20.2" height="19.2" fill="url(#chk)"/><rect x="1033.0" y="163.7" width="20.2" height="19.2" fill="url(#chk)"/><use href="#t7" transform="translate(1053.0,163.7) scale(1.026,1.000)"/><use href="#t8" transform="translate(1072.5,163.7) scale(1.053,1.000)"/><use href="#t3" transform="translate(993.7,182.7) scale(1.016,1.037)"/><use href="#t3" transform="translate(1013.0,182.7) scale(1.053,1.037)"/><use href="#t3" transform="translate(1033.0,182.7) scale(1.053,1.037)"/><use href="#t4" transform="translate(1053.0,182.7) scale(1.026,1.037)"/><use href="#t7" transform="translate(1072.5,182.7) scale(1.053,1.037)"/><use href="#t8" transform="translate(1092.5,182.7) scale(1.000,1.037)"/><use href="#t3" transform="translate(993.7,202.4) scale(1.016,0.974)"/><use href="#t3" transform="translate(1013.0,202.4) scale(1.053,0.974)"/><use href="#t3" transform="translate(1033.0,202.4) scale(1.053,0.974)"/><use href="#t4" transform="translate(1053.0,202.4) scale(1.026,0.974)"/><use href="#t4" transform="translate(1072.5,202.4) scale(1.053,0.974)"/><use href="#t7" transform="translate(1092.5,202.4) scale(1.000,0.974)"/><use href="#t8" transform="translate(1111.5,202.4) scale(0.984,0.974)"/><use href="#t3" transform="translate(993.7,220.9) scale(1.016,1.000)"/><use href="#t3" transform="translate(1013.0,220.9) scale(1.053,1.000)"/><use href="#t3" transform="translate(1033.0,220.9) scale(1.053,1.000)"/><use href="#t3" transform="translate(1053.0,220.9) scale(1.026,1.000)"/><use href="#t3" transform="translate(1072.5,220.9) scale(1.053,1.000)"/><use href="#t4" transform="translate(1092.5,220.9) scale(1.000,1.000)"/><use href="#t7" transform="translate(1111.5,220.9) scale(0.984,1.000)"/><use href="#t8" transform="translate(1130.2,220.9) scale(1.058,1.000)"/><use href="#t2" transform="translate(993.7,239.9) scale(1.016,1.084)"/><use href="#t2" transform="translate(1013.0,239.9) scale(1.053,1.084)"/><use href="#t2" transform="translate(1033.0,239.9) scale(1.053,1.084)"/><use href="#t2" transform="translate(1053.0,239.9) scale(1.026,1.084)"/><use href="#t1" transform="translate(1072.5,239.9) scale(1.053,1.084)"/><use href="#t4" transform="translate(1092.5,239.9) scale(1.000,1.084)"/><use href="#t7" transform="translate(1111.5,239.9) scale(0.984,1.084)"/><use href="#t8" transform="translate(1130.2,239.9) scale(1.058,1.084)"/><use href="#t9" transform="translate(1150.3,239.9) scale(1.016,1.084)"/><use href="#t2" transform="translate(993.7,260.5) scale(1.016,1.121)"/><use href="#t2" transform="translate(1013.0,260.5) scale(1.053,1.121)"/><use href="#t2" transform="translate(1033.0,260.5) scale(1.053,1.121)"/><use href="#t2" transform="translate(1053.0,260.5) scale(1.026,1.121)"/><use href="#t1" transform="translate(1072.5,260.5) scale(1.053,1.121)"/><use href="#t4" transform="translate(1092.5,260.5) scale(1.000,1.121)"/><use href="#t7" transform="translate(1111.5,260.5) scale(0.984,1.121)"/><use href="#t8" transform="translate(1130.2,260.5) scale(1.058,1.121)"/><use href="#t9" transform="translate(1150.3,260.5) scale(1.016,1.121)"/><use href="#t4" transform="translate(840.2,298.4) scale(1.000,1.032)"/><use href="#t5" transform="translate(859.2,298.4) scale(0.989,1.032)"/><use href="#t9" transform="translate(878.0,298.4) scale(0.947,1.032)"/><use href="#t9" transform="translate(896.0,298.4) scale(1.105,1.032)"/><use href="#t9" transform="translate(917.0,298.4) scale(0.974,1.032)"/><use href="#t9" transform="translate(935.5,298.4) scale(1.132,1.032)"/><use href="#t9" transform="translate(957.0,298.4) scale(1.042,1.032)"/><use href="#t4" transform="translate(840.2,318.0) scale(1.000,1.042)"/><rect x="859.2" y="318.0" width="19.0" height="20.0" fill="url(#chk)"/><use href="#t8" transform="translate(878.0,318.0) scale(0.947,1.042)"/><use href="#t8" transform="translate(896.0,318.0) scale(1.105,1.042)"/><use href="#t9" transform="translate(917.0,318.0) scale(0.974,1.042)"/><use href="#t9" transform="translate(935.5,318.0) scale(1.132,1.042)"/><use href="#t9" transform="translate(957.0,318.0) scale(1.042,1.042)"/><rect x="840.2" y="337.8" width="19.2" height="19.9" fill="url(#chk)"/><rect x="859.2" y="337.8" width="19.0" height="19.9" fill="url(#chk)"/><rect x="878.0" y="337.8" width="18.2" height="19.9" fill="url(#chk)"/><use href="#t7" transform="translate(896.0,337.8) scale(1.105,1.037)"/><use href="#t9" transform="translate(917.0,337.8) scale(0.974,1.037)"/><use href="#t9" transform="translate(935.5,337.8) scale(1.132,1.037)"/><use href="#t8" transform="translate(957.0,337.8) scale(1.042,1.037)"/><use href="#t7" transform="translate(859.2,357.5) scale(0.989,1.005)"/><use href="#t7" transform="translate(878.0,357.5) scale(0.947,1.005)"/><use href="#t8" transform="translate(896.0,357.5) scale(1.105,1.005)"/><use href="#t9" transform="translate(917.0,357.5) scale(0.974,1.005)"/><use href="#t9" transform="translate(935.5,357.5) scale(1.132,1.005)"/><use href="#t8" transform="translate(957.0,357.5) scale(1.042,1.005)"/><use href="#t8" transform="translate(859.2,376.6) scale(0.989,1.037)"/><use href="#t8" transform="translate(878.0,376.6) scale(0.947,1.037)"/><use href="#t8" transform="translate(896.0,376.6) scale(1.105,1.037)"/><use href="#t9" transform="translate(917.0,376.6) scale(0.974,1.037)"/><use href="#t9" transform="translate(935.5,376.6) scale(1.132,1.037)"/><use href="#t9" transform="translate(957.0,376.6) scale(1.042,1.037)"/><use href="#t8" transform="translate(878.0,396.3) scale(0.947,1.068)"/><use href="#t8" transform="translate(896.0,396.3) scale(1.105,1.068)"/><use href="#t8" transform="translate(917.0,396.3) scale(0.974,1.068)"/><use href="#t8" transform="translate(935.5,396.3) scale(1.132,1.068)"/><use href="#t8" transform="translate(957.0,396.3) scale(1.042,1.068)"/><use href="#t7" transform="translate(917.0,416.6) scale(0.974,1.005)"/><use href="#t8" transform="translate(935.5,416.6) scale(1.132,1.005)"/><use href="#t8" transform="translate(957.0,416.6) scale(1.042,1.005)"/><path fill="#000" d="M994,298.4 H1169.6 V340.4 H1150.5 V358.8 H1130.2 V377.6 H1111.5 V396.3 H1092.5 V417 H1053.3 V436 H994 Z"/><line x1="1383.4" y1="115.5" x2="1383.4" y2="472.7" stroke="#333" stroke-width="1.5"/><line x1="1197.9" y1="289.5" x2="1566.7" y2="289.5" stroke="#333" stroke-width="1.5"/><use href="#hs" x="1328.1" y="163.2"/><use href="#sq" x="1364.4" y="163.2"/><use href="#sq" x="1401.7" y="163.2"/><use href="#sq" x="1437.5" y="163.2"/><use href="#sq" x="1290.8" y="199.4"/><use href="#sq" x="1328.1" y="199.4"/><use href="#hs" x="1364.4" y="199.4"/><use href="#sq" x="1401.7" y="199.4"/><use href="#sq" x="1437.5" y="199.4"/><use href="#sq" x="1473.8" y="199.4"/><use href="#sq" x="1254.6" y="235.7"/><use href="#sq" x="1290.8" y="235.7"/><use href="#sq" x="1328.1" y="235.7"/><use href="#hs" x="1364.4" y="235.7"/><use href="#sq" x="1401.7" y="235.7"/><use href="#sq" x="1437.5" y="235.7"/><use href="#hs" x="1473.8" y="235.7"/><use href="#sq" x="1510.7" y="235.7"/><use href="#sq" x="1254.6" y="272.6"/><use href="#hs" x="1328.1" y="272.6"/><use href="#sq" x="1364.4" y="272.6"/><use href="#hs" x="1401.7" y="272.6"/><use href="#hs" x="1437.5" y="272.6"/><use href="#sq" x="1473.8" y="272.6"/><use href="#sq" x="1510.7" y="272.6"/><use href="#sq" x="1546.6" y="272.6"/><use href="#sq" x="1254.6" y="308.5"/><use href="#sq" x="1328.1" y="308.5"/><use href="#sq" x="1364.4" y="308.5"/><use href="#sq" x="1401.7" y="308.5"/><use href="#sq" x="1437.5" y="308.5"/><use href="#sq" x="1473.8" y="308.5"/><use href="#sq" x="1510.7" y="308.5"/><use href="#sq" x="1546.6" y="308.5"/><use href="#sq" x="1254.6" y="346.1"/><use href="#sq" x="1290.8" y="346.1"/><use href="#sq" x="1328.1" y="346.1"/><use href="#sq" x="1364.4" y="346.1"/><use href="#sq" x="1401.7" y="346.1"/><use href="#sq" x="1437.5" y="346.1"/><use href="#sq" x="1473.8" y="346.1"/><use href="#sq" x="1510.7" y="346.1"/><use href="#sq" x="1290.8" y="382.0"/><use href="#sq" x="1328.1" y="382.0"/><use href="#sq" x="1364.4" y="382.0"/><use href="#sq" x="1401.7" y="382.0"/><use href="#sq" x="1437.5" y="382.0"/><use href="#sq" x="1473.8" y="382.0"/><use href="#sq" x="1328.1" y="417.9"/><use href="#sq" x="1364.4" y="417.9"/><use href="#sq" x="1401.7" y="417.9"/><use href="#sq" x="1437.5" y="417.9"/>
<clipPath id="cl155"><rect x="155.3" y="592.8" width="474.5" height="162.4"/></clipPath>
<g clip-path="url(#cl155)">
<path d="M155.3,715.8 C156.9,714.2 156.7,712.7 161.4,710.0 C166.2,707.4 167.3,708.3 173.0,705.9 C178.7,703.5 177.2,704.0 182.9,700.9 C188.6,697.9 188.3,699.6 194.4,694.3 C200.6,689.1 200.7,687.5 206.0,681.1 C211.3,674.8 209.8,676.1 214.2,670.4 C218.6,664.7 218.1,664.5 222.5,659.7 C226.9,654.9 227.2,654.6 230.7,652.3 C234.3,650.0 231.3,651.1 235.7,651.1 C240.1,651.1 242.0,651.3 247.2,652.3 C252.5,653.2 251.1,652.5 255.5,654.7 C259.9,656.9 259.3,656.1 263.7,660.5 C268.1,664.9 267.6,666.2 272.0,671.2 C276.4,676.3 276.3,676.2 280.2,679.5 C284.2,682.8 282.4,683.4 286.8,683.6 C291.2,683.8 291.0,682.1 296.7,680.3 C302.4,678.6 302.1,678.6 308.3,677.0 C314.4,675.4 314.1,674.2 319.8,674.2 C325.5,674.2 323.6,675.0 329.7,677.0 C335.9,679.1 336.3,678.9 342.9,682.0 C349.5,685.0 347.9,684.4 354.5,688.6 C361.1,692.7 361.1,692.6 367.7,697.6 C374.3,702.7 373.1,703.4 379.2,707.5 C385.4,711.7 384.8,711.3 390.8,713.3 C396.7,715.3 395.5,715.4 401.4,715.0 C407.4,714.5 406.4,713.6 413.0,711.7 C419.6,709.7 419.6,710.6 426.2,707.5 C432.8,704.5 431.6,704.7 437.7,700.1 C443.9,695.5 443.6,694.0 449.3,690.2 C455.0,686.5 451.7,688.1 459.2,686.1 C466.7,684.1 469.9,685.9 477.3,682.8 C484.8,679.7 481.5,680.0 487.2,674.5 C493.0,669.0 492.6,667.2 498.8,662.2 C504.9,657.1 503.7,657.6 510.3,655.6 C516.9,653.5 517.8,655.7 523.5,654.4 C529.2,653.1 527.4,651.9 531.8,650.6 C536.2,649.3 535.2,649.2 540.0,649.5 C544.9,649.7 545.1,648.7 549.9,651.4 C554.8,654.2 554.2,654.4 558.2,659.7 C562.1,665.0 561.3,664.2 564.8,671.2 C568.3,678.3 567.0,678.6 571.4,686.1 C575.8,693.6 576.0,693.1 581.3,699.3 C586.5,705.4 585.9,704.6 591.2,709.2 C596.4,713.8 595.8,713.8 601.1,716.6 C606.3,719.5 606.1,719.3 611.0,719.9 C615.8,720.6 614.4,720.0 619.2,719.1 C624.1,718.2 626.4,717.3 629.1,716.6 C631.8,716.0 629.2,716.6 629.2,716.6 L629.2,754.2 L155.3,754.2 Z" fill="#d2f99c"/>
<path d="M155.3,731.0 C156.5,730.7 155.1,731.0 159.8,729.8 C164.5,728.6 163.8,728.3 173.0,726.5 C182.2,724.8 183.0,723.9 194.4,723.2 C205.9,722.6 208.4,725.6 215.9,724.0 C223.4,722.5 218.1,721.8 222.5,717.4 C226.9,713.0 227.1,712.6 232.4,707.5 C237.7,702.5 237.9,700.0 242.3,698.5 C246.7,696.9 244.5,698.0 248.9,701.8 C253.3,705.5 253.9,707.4 258.8,712.5 C263.6,717.5 262.2,717.2 267.0,720.7 C271.9,724.3 271.2,724.6 276.9,725.7 C282.6,726.8 278.8,726.2 288.5,724.9 C298.2,723.5 303.1,721.9 313.2,720.7 C323.3,719.5 319.8,719.4 326.4,720.4 C333.0,721.4 331.4,722.3 338.0,724.4 C344.6,726.5 343.2,726.3 351.2,728.3 C359.1,730.3 358.0,731.2 367.7,732.0 C377.3,732.7 381.5,731.2 387.5,731.3 C393.4,731.4 386.2,731.6 389.9,732.3 C393.6,733.0 395.3,733.9 401.4,733.9 C407.6,733.9 405.5,733.2 413.0,732.3 C420.5,731.4 421.6,731.5 429.5,730.6 C437.4,729.8 436.5,729.9 442.7,729.0 C448.8,728.1 447.3,728.4 452.6,727.3 C457.9,726.2 455.4,725.7 462.5,724.9 C469.5,724.0 471.1,724.8 479.0,724.0 C486.9,723.3 486.0,723.8 492.2,722.1 C498.3,720.3 496.8,720.0 502.1,717.4 C507.4,714.9 507.1,716.4 512.0,712.5 C516.8,708.5 514.9,707.2 520.2,702.6 C525.5,698.0 526.9,697.5 531.8,695.2 C536.6,692.9 534.9,694.0 538.4,694.0 C541.9,694.0 541.5,692.4 545.0,695.2 C548.5,697.9 548.1,698.7 551.6,704.2 C555.1,709.7 555.1,711.2 558.2,715.8 C561.3,720.4 559.6,719.1 563.1,721.6 C566.6,724.0 566.5,723.8 571.4,724.9 C576.2,726.0 576.0,724.1 581.3,725.7 C586.5,727.2 585.9,728.2 591.2,730.6 C596.4,733.1 595.8,733.4 601.1,734.8 C606.3,736.1 606.1,735.1 611.0,735.6 C615.8,736.0 614.4,737.1 619.2,736.4 C624.1,735.7 626.4,734.0 629.1,733.1 C631.8,732.2 629.2,733.1 629.2,733.1 L629.2,754.2 L155.3,754.2 Z" fill="#fffb9e"/>
<path d="M155.3,737.2 C156.9,736.6 156.7,736.1 161.4,734.8 C166.2,733.4 165.5,733.9 173.0,732.3 C180.5,730.7 179.8,729.5 189.5,728.7 C199.2,727.8 201.4,729.8 209.3,729.0 C217.2,728.2 213.9,728.8 219.2,725.7 C224.5,722.6 223.8,721.9 229.1,717.4 C234.4,712.9 234.6,710.8 239.0,708.9 C243.4,706.9 241.2,707.1 245.6,710.0 C250.0,713.0 250.6,714.9 255.5,719.9 C260.3,725.0 259.3,725.0 263.7,729.0 C268.1,732.9 265.4,733.4 272.0,734.8 C278.6,736.1 279.7,734.9 288.5,733.9 C297.3,732.9 296.2,731.9 305.0,731.0 C313.8,730.0 314.4,730.2 321.5,730.3 C328.5,730.4 324.8,730.1 331.4,731.5 C338.0,732.9 337.9,733.2 346.2,735.6 C354.6,738.0 353.9,738.9 362.7,740.5 C371.5,742.2 369.8,741.4 379.2,741.9 C388.7,742.3 389.1,742.4 398.1,742.2 C407.2,741.9 402.4,741.1 413.0,740.9 C423.6,740.6 428.1,742.3 437.7,741.4 C447.4,740.4 442.3,739.4 449.3,737.2 C456.3,735.0 456.2,734.0 464.1,733.1 C472.1,732.2 471.5,733.9 479.0,733.9 C486.5,733.9 486.0,734.9 492.2,733.1 C498.3,731.3 496.8,731.1 502.1,727.3 C507.4,723.6 506.7,723.9 512.0,719.1 C517.3,714.2 516.6,713.6 521.9,709.2 C527.2,704.8 527.4,704.7 531.8,702.6 C536.2,700.5 534.9,700.8 538.4,701.3 C541.9,701.7 541.5,700.8 545.0,704.2 C548.5,707.7 548.1,708.9 551.6,714.1 C555.1,719.4 555.1,720.1 558.2,724.0 C561.3,728.0 559.6,727.3 563.1,729.0 C566.6,730.7 566.5,729.9 571.4,730.3 C576.2,730.7 576.0,729.4 581.3,730.6 C586.5,731.8 585.9,733.0 591.2,734.8 C596.4,736.5 595.8,736.6 601.1,737.2 C606.3,737.9 606.1,736.6 611.0,737.2 C615.8,737.9 614.4,740.1 619.2,739.7 C624.1,739.3 626.4,736.7 629.1,735.6 C631.8,734.5 629.2,735.6 629.2,735.6 L629.2,754.2 L155.3,754.2 Z" fill="#f19c8e"/>
</g>
<line x1="155.3" y1="723.6" x2="629.2" y2="723.6" stroke="#bdbdbd" stroke-width="1.4" opacity="0.85"/>
<line x1="155.3" y1="692.7" x2="629.2" y2="692.7" stroke="#bdbdbd" stroke-width="1.4" opacity="0.85"/>
<line x1="155.3" y1="659.9" x2="629.2" y2="659.9" stroke="#bdbdbd" stroke-width="1.4" opacity="0.85"/>
<line x1="155.3" y1="628.7" x2="629.2" y2="628.7" stroke="#bdbdbd" stroke-width="1.4" opacity="0.85"/>
<line x1="155.3" y1="597.8" x2="629.2" y2="597.8" stroke="#bdbdbd" stroke-width="1.4" opacity="0.85"/>
<line x1="215.4" y1="597.8" x2="215.4" y2="754.2" stroke="#bdbdbd" stroke-width="1.4" opacity="0.85"/>
<line x1="274.2" y1="597.8" x2="274.2" y2="754.2" stroke="#bdbdbd" stroke-width="1.4" opacity="0.85"/>
<line x1="332.7" y1="597.8" x2="332.7" y2="754.2" stroke="#bdbdbd" stroke-width="1.4" opacity="0.85"/>
<line x1="451.0" y1="597.8" x2="451.0" y2="754.2" stroke="#bdbdbd" stroke-width="1.4" opacity="0.85"/>
<line x1="511.2" y1="597.8" x2="511.2" y2="754.2" stroke="#bdbdbd" stroke-width="1.4" opacity="0.85"/>
<line x1="570.1" y1="597.8" x2="570.1" y2="754.2" stroke="#bdbdbd" stroke-width="1.4" opacity="0.85"/>
<g clip-path="url(#cl155)">
<path d="M155.2,724.9 C159.9,722.9 163.8,721.4 173.0,717.4 C182.1,713.5 180.7,714.2 189.5,710.0 C198.3,705.8 199.0,706.2 206.0,701.8 C213.0,697.4 210.2,699.0 215.9,693.5 C221.6,688.0 222.2,685.8 227.4,681.1 C232.7,676.5 231.7,677.7 235.7,676.2 C239.6,674.7 237.9,674.7 242.3,675.4 C246.7,676.0 246.9,675.4 252.2,678.7 C257.5,682.0 256.8,682.7 262.1,687.7 C267.4,692.8 267.1,693.5 272.0,697.6 C276.8,701.8 276.5,701.2 280.2,703.4 C284.0,705.6 281.6,706.1 286.0,705.9 C290.4,705.7 290.8,704.1 296.7,702.6 C302.7,701.0 301.7,701.2 308.3,700.1 C314.9,699.0 315.8,698.8 321.5,698.5 C327.2,698.2 324.0,697.4 329.7,699.0 C335.4,700.5 335.0,700.9 342.9,704.2 C350.8,707.6 351.1,707.7 359.4,711.7 C367.8,715.6 366.8,715.8 374.3,719.1 C381.7,722.4 383.3,722.5 387.5,724.0 C391.6,725.6 386.2,724.4 389.9,724.9 C393.6,725.3 395.3,725.7 401.4,725.7 C407.6,725.7 406.8,725.5 413.0,724.9 C419.2,724.2 418.4,725.2 424.5,723.2 C430.7,721.2 429.5,721.2 436.1,717.4 C442.7,713.7 442.3,712.5 449.3,709.2 C456.3,705.9 455.4,706.8 462.5,705.1 C469.5,703.3 469.5,704.1 475.7,702.6 C481.8,701.0 479.4,702.6 485.6,699.3 C491.7,696.0 491.7,694.8 498.8,690.2 C505.8,685.6 504.9,685.5 512.0,682.0 C519.0,678.4 518.1,679.9 525.2,677.0 C532.2,674.2 533.1,672.6 538.4,671.2 C543.7,669.9 541.0,669.4 545.0,672.1 C548.9,674.7 548.8,675.6 553.2,681.1 C557.6,686.6 557.1,687.4 561.5,692.7 C565.9,698.0 565.3,696.1 569.7,700.9 C574.1,705.8 573.1,705.8 578.0,710.8 C582.8,715.9 582.1,716.0 587.9,719.9 C593.6,723.9 593.3,723.9 599.4,725.7 C605.6,727.4 604.4,726.3 611.0,726.5 C617.6,726.7 619.3,727.0 624.2,726.5 C629.0,726.1 627.8,725.3 629.1,724.9" fill="none" stroke="#44a522" stroke-width="1.6"/>
</g>
<line x1="155.3" y1="754.2" x2="629.2" y2="754.2" stroke="#e0402f" stroke-width="1.8"/>
<line x1="155.3" y1="597.1" x2="155.3" y2="762.2" stroke="#5a5a5a" stroke-width="1.4"/>
<line x1="147.8" y1="754.2" x2="155.3" y2="754.2" stroke="#5a5a5a" stroke-width="1.4"/>
<text x="142.1" y="759.3" text-anchor="end" font-size="14.3" letter-spacing="0.4" fill="#2e2e2e">0</text>
<line x1="147.8" y1="723.6" x2="155.3" y2="723.6" stroke="#5a5a5a" stroke-width="1.4"/>
<text x="142.1" y="728.7" text-anchor="end" font-size="14.3" letter-spacing="0.4" fill="#2e2e2e">60</text>
<line x1="147.8" y1="692.7" x2="155.3" y2="692.7" stroke="#5a5a5a" stroke-width="1.4"/>
<text x="142.1" y="697.8" text-anchor="end" font-size="14.3" letter-spacing="0.4" fill="#2e2e2e">120</text>
<line x1="147.8" y1="659.9" x2="155.3" y2="659.9" stroke="#5a5a5a" stroke-width="1.4"/>
<text x="142.1" y="665.0" text-anchor="end" font-size="14.3" letter-spacing="0.4" fill="#2e2e2e">180</text>
<line x1="147.8" y1="628.7" x2="155.3" y2="628.7" stroke="#5a5a5a" stroke-width="1.4"/>
<text x="142.1" y="633.8" text-anchor="end" font-size="14.3" letter-spacing="0.4" fill="#2e2e2e">240</text>
<line x1="147.8" y1="597.8" x2="155.3" y2="597.8" stroke="#5a5a5a" stroke-width="1.4"/>
<text x="142.1" y="602.9" text-anchor="end" font-size="14.3" letter-spacing="0.4" fill="#2e2e2e">300</text>
<line x1="155.3" y1="754.2" x2="155.3" y2="762.2" stroke="#5a5a5a" stroke-width="1.4"/>
<text x="155.5" y="785.0" text-anchor="start" font-size="14.3" letter-spacing="0.4" fill="#2e2e2e">0</text>
<line x1="215.4" y1="754.2" x2="215.4" y2="762.2" stroke="#5a5a5a" stroke-width="1.4"/>
<text x="215.6" y="785.0" text-anchor="middle" font-size="14.3" letter-spacing="0.4" fill="#2e2e2e">45</text>
<line x1="274.2" y1="754.2" x2="274.2" y2="762.2" stroke="#5a5a5a" stroke-width="1.4"/>
<text x="274.4" y="785.0" text-anchor="middle" font-size="14.3" letter-spacing="0.4" fill="#2e2e2e">90</text>
<line x1="332.7" y1="754.2" x2="332.7" y2="762.2" stroke="#5a5a5a" stroke-width="1.4"/>
<text x="332.9" y="785.0" text-anchor="middle" font-size="14.3" letter-spacing="0.4" fill="#2e2e2e">135</text>
<line x1="391.5" y1="754.2" x2="391.5" y2="762.2" stroke="#5a5a5a" stroke-width="1.4"/>
<text x="391.7" y="785.0" text-anchor="middle" font-size="14.3" letter-spacing="0.4" fill="#2e2e2e">180</text>
<line x1="451.0" y1="754.2" x2="451.0" y2="762.2" stroke="#5a5a5a" stroke-width="1.4"/>
<text x="451.2" y="785.0" text-anchor="middle" font-size="14.3" letter-spacing="0.4" fill="#2e2e2e">225</text>
<line x1="511.2" y1="754.2" x2="511.2" y2="762.2" stroke="#5a5a5a" stroke-width="1.4"/>
<text x="511.4" y="785.0" text-anchor="middle" font-size="14.3" letter-spacing="0.4" fill="#2e2e2e">270</text>
<line x1="570.1" y1="754.2" x2="570.1" y2="762.2" stroke="#5a5a5a" stroke-width="1.4"/>
<text x="570.3" y="785.0" text-anchor="middle" font-size="14.3" letter-spacing="0.4" fill="#2e2e2e">315</text>
<line x1="629.2" y1="754.2" x2="629.2" y2="762.2" stroke="#5a5a5a" stroke-width="1.4"/>
<text x="630.0" y="785.0" text-anchor="end" font-size="14.3" letter-spacing="0.4" fill="#2e2e2e">360</text>
<text x="155.6" y="809.6" text-anchor="start" font-size="15.5" font-weight="bold" fill="#151515">TMP</text>
<text x="274.2" y="809.6" text-anchor="middle" font-size="15.5" font-weight="bold" fill="#151515">SUP</text>
<text x="391.5" y="809.6" text-anchor="middle" font-size="15.5" font-weight="bold" fill="#151515">NAS</text>
<text x="511.2" y="809.6" text-anchor="middle" font-size="15.5" font-weight="bold" fill="#151515">INF</text>
<text x="629.5" y="809.6" text-anchor="end" font-size="15.5" font-weight="bold" fill="#151515">TMP</text>
<text x="391.8" y="830.2" text-anchor="middle" font-size="14.8" fill="#2e2e2e">Position [°]</text>
<text transform="translate(103.7,690.0) rotate(-90)" text-anchor="middle" font-size="16.3" textLength="209" lengthAdjust="spacingAndGlyphs" fill="#2e2e2e">RNFL Thickness (12.0°) [µm]</text>

<path d="M155.2,743.5 C156.3,743.8 156.0,744.4 159.8,744.7 C163.6,744.9 167.5,745.2 171.3,744.7 C175.2,744.1 174.2,744.7 176.3,742.2 C178.4,739.7 178.1,735.7 180.4,733.9 C182.7,732.2 183.5,734.8 186.2,734.8 C188.9,734.7 189.5,732.8 192.0,733.6 C194.5,734.4 194.8,736.2 196.9,738.1 C199.0,739.9 199.1,741.6 201.0,741.4 C203.0,741.2 203.2,741.3 205.2,737.2 C207.1,733.2 207.2,729.1 209.3,724.0 C211.4,719.0 211.5,716.4 214.2,715.5 C216.9,714.5 217.4,720.1 220.8,719.9 C224.3,719.7 226.2,714.3 229.1,714.5 C232.0,714.7 231.3,716.8 233.2,720.7 C235.1,724.7 235.6,728.3 237.3,731.5 C239.1,734.6 237.9,733.6 240.6,734.3 C243.3,734.9 244.6,734.9 248.9,734.3 C253.1,733.6 255.3,732.9 258.8,731.5 C262.2,730.0 261.0,728.9 263.7,728.2 C266.4,727.4 267.3,729.5 270.3,728.2 C273.4,726.8 273.1,725.3 276.9,722.4 C280.8,719.5 283.0,716.2 286.8,715.8 C290.7,715.3 290.2,721.9 293.4,720.4 C296.7,718.9 297.2,711.5 300.9,709.2 C304.5,706.9 306.2,712.0 309.1,710.5 C312.0,709.0 311.3,706.0 313.2,702.6 C315.1,699.2 315.4,696.4 317.3,696.0 C319.3,695.6 319.4,698.4 321.5,700.9 C323.6,703.4 324.1,705.6 326.4,706.7 C328.7,707.9 328.9,706.5 331.4,705.9 C333.9,705.2 335.0,703.1 337.1,703.9 C339.3,704.7 338.5,704.5 340.4,709.2 C342.4,713.9 343.1,718.3 345.4,724.0 C347.7,729.7 348.2,732.1 350.3,733.6 C352.5,735.1 352.3,732.1 354.5,730.6 C356.6,729.2 356.5,727.5 359.4,727.3 C362.3,727.1 363.8,730.3 366.8,729.8 C369.9,729.3 369.0,725.7 372.6,725.4 C376.3,725.0 378.7,727.4 382.5,728.2 C386.4,728.9 386.2,728.3 389.1,728.7 C392.0,729.0 391.6,730.2 394.9,729.8 C398.1,729.4 399.3,727.4 403.1,727.0 C406.9,726.6 407.5,729.6 411.3,728.2 C415.2,726.7 415.9,721.5 419.6,720.7 C423.3,720.0 423.2,724.2 427.0,724.9 C430.9,725.6 432.0,722.9 436.1,723.7 C440.1,724.5 440.9,728.3 444.3,728.2 C447.8,728.0 447.5,726.5 450.9,723.2 C454.4,719.9 455.7,717.0 459.2,714.1 C462.7,711.2 461.9,713.5 465.8,710.8 C469.6,708.1 471.8,703.6 475.7,702.6 C479.5,701.6 478.8,704.6 482.3,706.7 C485.7,708.8 486.7,710.7 490.5,711.7 C494.4,712.6 495.3,710.6 498.8,710.8 C502.2,711.0 502.7,711.5 505.4,712.5 C508.1,713.4 508.0,716.1 510.3,715.0 C512.6,713.8 513.0,710.8 515.3,707.5 C517.6,704.3 517.5,703.4 520.2,700.9 C522.9,698.4 524.1,699.9 526.8,696.8 C529.5,693.7 529.5,693.3 531.8,687.7 C534.1,682.2 534.4,677.1 536.7,672.9 C539.0,668.7 539.4,669.8 541.7,669.6 C544.0,669.4 544.3,669.4 546.6,672.1 C548.9,674.8 548.9,676.7 551.6,681.1 C554.3,685.6 555.5,687.4 558.2,691.0 C560.9,694.7 561.2,695.3 563.1,696.8 C565.0,698.4 564.5,697.6 566.4,697.6 C568.3,697.6 568.7,694.1 571.4,696.8 C574.1,699.5 574.5,705.0 578.0,709.2 C581.4,713.4 582.8,711.9 586.2,715.0 C589.7,718.0 589.4,719.5 592.8,722.4 C596.3,725.3 596.8,724.6 601.1,727.3 C605.3,730.0 606.7,731.0 611.0,733.9 C615.2,736.8 615.0,737.6 619.2,739.7 C623.4,741.8 626.8,742.2 629.1,743.0" fill="none" stroke="#000" stroke-width="3.1" stroke-linejoin="round" stroke-linecap="round"/>
<clipPath id="cl957"><rect x="957.4" y="592.8" width="474.9" height="162.4"/></clipPath>
<g clip-path="url(#cl957)">
<path d="M957.4,715.8 C959.0,714.2 958.8,712.7 963.5,710.0 C968.3,707.4 969.4,708.3 975.1,705.9 C980.8,703.5 979.3,704.0 985.0,700.9 C990.7,697.9 990.4,699.6 996.5,694.3 C1002.7,689.1 1002.8,687.5 1008.1,681.1 C1013.4,674.8 1011.9,676.1 1016.3,670.4 C1020.7,664.7 1020.2,664.5 1024.6,659.7 C1029.0,654.9 1029.3,654.6 1032.8,652.3 C1036.4,650.0 1033.4,651.1 1037.8,651.1 C1042.2,651.1 1044.1,651.3 1049.3,652.3 C1054.6,653.2 1053.2,652.5 1057.6,654.7 C1062.0,656.9 1061.4,656.1 1065.8,660.5 C1070.2,664.9 1069.7,666.2 1074.1,671.2 C1078.5,676.3 1078.4,676.2 1082.3,679.5 C1086.3,682.8 1084.5,683.4 1088.9,683.6 C1093.3,683.8 1093.1,682.1 1098.8,680.3 C1104.5,678.6 1104.2,678.6 1110.4,677.0 C1116.5,675.4 1116.2,674.2 1121.9,674.2 C1127.6,674.2 1125.7,675.0 1131.8,677.0 C1138.0,679.1 1138.4,678.9 1145.0,682.0 C1151.6,685.0 1150.0,684.4 1156.6,688.6 C1163.2,692.7 1163.2,692.6 1169.8,697.6 C1176.4,702.7 1175.2,703.4 1181.3,707.5 C1187.5,711.7 1186.9,711.3 1192.9,713.3 C1198.8,715.3 1197.6,715.4 1203.5,715.0 C1209.5,714.5 1208.5,713.6 1215.1,711.7 C1221.7,709.7 1221.7,710.6 1228.3,707.5 C1234.9,704.5 1233.7,704.7 1239.8,700.1 C1246.0,695.5 1245.7,694.0 1251.4,690.2 C1257.1,686.5 1253.8,688.1 1261.3,686.1 C1268.8,684.1 1272.0,685.9 1279.4,682.8 C1286.9,679.7 1283.6,680.0 1289.3,674.5 C1295.1,669.0 1294.7,667.2 1300.9,662.2 C1307.0,657.1 1305.8,657.6 1312.4,655.6 C1319.0,653.5 1319.9,655.7 1325.6,654.4 C1331.3,653.1 1329.5,651.9 1333.9,650.6 C1338.3,649.3 1337.3,649.2 1342.1,649.5 C1347.0,649.7 1347.2,648.7 1352.0,651.4 C1356.9,654.2 1356.3,654.4 1360.3,659.7 C1364.2,665.0 1363.4,664.2 1366.9,671.2 C1370.4,678.3 1369.1,678.6 1373.5,686.1 C1377.9,693.6 1378.1,693.1 1383.4,699.3 C1388.6,705.4 1388.0,704.6 1393.3,709.2 C1398.5,713.8 1397.9,713.8 1403.2,716.6 C1408.4,719.5 1408.2,719.3 1413.1,719.9 C1417.9,720.6 1416.5,720.0 1421.3,719.1 C1426.2,718.2 1428.4,717.3 1431.2,716.6 C1434.0,716.0 1431.6,716.6 1431.7,716.6 L1431.7,754.2 L957.4,754.2 Z" fill="#d2f99c"/>
<path d="M957.4,731.0 C958.6,730.7 957.2,731.0 961.9,729.8 C966.6,728.6 965.9,728.3 975.1,726.5 C984.3,724.8 985.1,723.9 996.5,723.2 C1008.0,722.6 1010.5,725.6 1018.0,724.0 C1025.5,722.5 1020.2,721.8 1024.6,717.4 C1029.0,713.0 1029.2,712.6 1034.5,707.5 C1039.8,702.5 1040.0,700.0 1044.4,698.5 C1048.8,696.9 1046.6,698.0 1051.0,701.8 C1055.4,705.5 1056.0,707.4 1060.9,712.5 C1065.7,717.5 1064.3,717.2 1069.1,720.7 C1074.0,724.3 1073.3,724.6 1079.0,725.7 C1084.7,726.8 1080.9,726.2 1090.6,724.9 C1100.3,723.5 1105.2,721.9 1115.3,720.7 C1125.4,719.5 1121.9,719.4 1128.5,720.4 C1135.1,721.4 1133.5,722.3 1140.1,724.4 C1146.7,726.5 1145.3,726.3 1153.3,728.3 C1161.2,730.3 1160.1,731.2 1169.8,732.0 C1179.4,732.7 1183.6,731.2 1189.6,731.3 C1195.5,731.4 1188.3,731.6 1192.0,732.3 C1195.7,733.0 1197.4,733.9 1203.5,733.9 C1209.7,733.9 1207.6,733.2 1215.1,732.3 C1222.6,731.4 1223.7,731.5 1231.6,730.6 C1239.5,729.8 1238.6,729.9 1244.8,729.0 C1250.9,728.1 1249.4,728.4 1254.7,727.3 C1260.0,726.2 1257.5,725.7 1264.6,724.9 C1271.6,724.0 1273.2,724.8 1281.1,724.0 C1289.0,723.3 1288.1,723.8 1294.3,722.1 C1300.4,720.3 1298.9,720.0 1304.2,717.4 C1309.5,714.9 1309.2,716.4 1314.1,712.5 C1318.9,708.5 1317.0,707.2 1322.3,702.6 C1327.6,698.0 1329.0,697.5 1333.9,695.2 C1338.7,692.9 1337.0,694.0 1340.5,694.0 C1344.0,694.0 1343.6,692.4 1347.1,695.2 C1350.6,697.9 1350.2,698.7 1353.7,704.2 C1357.2,709.7 1357.2,711.2 1360.3,715.8 C1363.4,720.4 1361.7,719.1 1365.2,721.6 C1368.7,724.0 1368.6,723.8 1373.5,724.9 C1378.3,726.0 1378.1,724.1 1383.4,725.7 C1388.6,727.2 1388.0,728.2 1393.3,730.6 C1398.5,733.1 1397.9,733.4 1403.2,734.8 C1408.4,736.1 1408.2,735.1 1413.1,735.6 C1417.9,736.0 1416.5,737.1 1421.3,736.4 C1426.2,735.7 1428.4,734.0 1431.2,733.1 C1434.0,732.2 1431.6,733.1 1431.7,733.1 L1431.7,754.2 L957.4,754.2 Z" fill="#fffb9e"/>
<path d="M957.4,737.2 C959.0,736.6 958.8,736.1 963.5,734.8 C968.3,733.4 967.6,733.9 975.1,732.3 C982.6,730.7 981.9,729.5 991.6,728.7 C1001.3,727.8 1003.5,729.8 1011.4,729.0 C1019.3,728.2 1016.0,728.8 1021.3,725.7 C1026.6,722.6 1025.9,721.9 1031.2,717.4 C1036.5,712.9 1036.7,710.8 1041.1,708.9 C1045.5,706.9 1043.3,707.1 1047.7,710.0 C1052.1,713.0 1052.7,714.9 1057.6,719.9 C1062.4,725.0 1061.4,725.0 1065.8,729.0 C1070.2,732.9 1067.5,733.4 1074.1,734.8 C1080.7,736.1 1081.8,734.9 1090.6,733.9 C1099.4,732.9 1098.3,731.9 1107.1,731.0 C1115.9,730.0 1116.5,730.2 1123.6,730.3 C1130.6,730.4 1126.9,730.1 1133.5,731.5 C1140.1,732.9 1140.0,733.2 1148.3,735.6 C1156.7,738.0 1156.0,738.9 1164.8,740.5 C1173.6,742.2 1171.9,741.4 1181.3,741.9 C1190.8,742.3 1191.2,742.4 1200.2,742.2 C1209.3,741.9 1204.5,741.1 1215.1,740.9 C1225.7,740.6 1230.2,742.3 1239.8,741.4 C1249.5,740.4 1244.4,739.4 1251.4,737.2 C1258.4,735.0 1258.3,734.0 1266.2,733.1 C1274.2,732.2 1273.6,733.9 1281.1,733.9 C1288.6,733.9 1288.1,734.9 1294.3,733.1 C1300.4,731.3 1298.9,731.1 1304.2,727.3 C1309.5,723.6 1308.8,723.9 1314.1,719.1 C1319.4,714.2 1318.7,713.6 1324.0,709.2 C1329.3,704.8 1329.5,704.7 1333.9,702.6 C1338.3,700.5 1337.0,700.8 1340.5,701.3 C1344.0,701.7 1343.6,700.8 1347.1,704.2 C1350.6,707.7 1350.2,708.9 1353.7,714.1 C1357.2,719.4 1357.2,720.1 1360.3,724.0 C1363.4,728.0 1361.7,727.3 1365.2,729.0 C1368.7,730.7 1368.6,729.9 1373.5,730.3 C1378.3,730.7 1378.1,729.4 1383.4,730.6 C1388.6,731.8 1388.0,733.0 1393.3,734.8 C1398.5,736.5 1397.9,736.6 1403.2,737.2 C1408.4,737.9 1408.2,736.6 1413.1,737.2 C1417.9,737.9 1416.5,740.1 1421.3,739.7 C1426.2,739.3 1428.4,736.7 1431.2,735.6 C1434.0,734.5 1431.6,735.6 1431.7,735.6 L1431.7,754.2 L957.4,754.2 Z" fill="#f19c8e"/>
</g>
<line x1="957.4" y1="723.6" x2="1431.7" y2="723.6" stroke="#bdbdbd" stroke-width="1.4" opacity="0.85"/>
<line x1="957.4" y1="692.7" x2="1431.7" y2="692.7" stroke="#bdbdbd" stroke-width="1.4" opacity="0.85"/>
<line x1="957.4" y1="659.9" x2="1431.7" y2="659.9" stroke="#bdbdbd" stroke-width="1.4" opacity="0.85"/>
<line x1="957.4" y1="628.7" x2="1431.7" y2="628.7" stroke="#bdbdbd" stroke-width="1.4" opacity="0.85"/>
<line x1="957.4" y1="597.8" x2="1431.7" y2="597.8" stroke="#bdbdbd" stroke-width="1.4" opacity="0.85"/>
<line x1="1018.1" y1="597.8" x2="1018.1" y2="754.2" stroke="#bdbdbd" stroke-width="1.4" opacity="0.85"/>
<line x1="1077.0" y1="597.8" x2="1077.0" y2="754.2" stroke="#bdbdbd" stroke-width="1.4" opacity="0.85"/>
<line x1="1136.0" y1="597.8" x2="1136.0" y2="754.2" stroke="#bdbdbd" stroke-width="1.4" opacity="0.85"/>
<line x1="1253.8" y1="597.8" x2="1253.8" y2="754.2" stroke="#bdbdbd" stroke-width="1.4" opacity="0.85"/>
<line x1="1314.2" y1="597.8" x2="1314.2" y2="754.2" stroke="#bdbdbd" stroke-width="1.4" opacity="0.85"/>
<line x1="1372.7" y1="597.8" x2="1372.7" y2="754.2" stroke="#bdbdbd" stroke-width="1.4" opacity="0.85"/>
<g clip-path="url(#cl957)">
<path d="M957.3,724.9 C962.0,722.9 965.9,721.4 975.1,717.4 C984.2,713.5 982.8,714.2 991.6,710.0 C1000.4,705.8 1001.1,706.2 1008.1,701.8 C1015.1,697.4 1012.3,699.0 1018.0,693.5 C1023.7,688.0 1024.3,685.8 1029.5,681.1 C1034.8,676.5 1033.8,677.7 1037.8,676.2 C1041.7,674.7 1040.0,674.7 1044.4,675.4 C1048.8,676.0 1049.0,675.4 1054.3,678.7 C1059.6,682.0 1058.9,682.7 1064.2,687.7 C1069.5,692.8 1069.2,693.5 1074.1,697.6 C1078.9,701.8 1078.6,701.2 1082.3,703.4 C1086.1,705.6 1083.7,706.1 1088.1,705.9 C1092.5,705.7 1092.9,704.1 1098.8,702.6 C1104.8,701.0 1103.8,701.2 1110.4,700.1 C1117.0,699.0 1117.9,698.8 1123.6,698.5 C1129.3,698.2 1126.1,697.4 1131.8,699.0 C1137.5,700.5 1137.1,700.9 1145.0,704.2 C1152.9,707.6 1153.2,707.7 1161.5,711.7 C1169.9,715.6 1168.9,715.8 1176.4,719.1 C1183.8,722.4 1185.4,722.5 1189.6,724.0 C1193.7,725.6 1188.3,724.4 1192.0,724.9 C1195.7,725.3 1197.4,725.7 1203.5,725.7 C1209.7,725.7 1208.9,725.5 1215.1,724.9 C1221.3,724.2 1220.5,725.2 1226.6,723.2 C1232.8,721.2 1231.6,721.2 1238.2,717.4 C1244.8,713.7 1244.4,712.5 1251.4,709.2 C1258.4,705.9 1257.5,706.8 1264.6,705.1 C1271.6,703.3 1271.6,704.1 1277.8,702.6 C1283.9,701.0 1281.5,702.6 1287.7,699.3 C1293.8,696.0 1293.8,694.8 1300.9,690.2 C1307.9,685.6 1307.0,685.5 1314.1,682.0 C1321.1,678.4 1320.2,679.9 1327.3,677.0 C1334.3,674.2 1335.2,672.6 1340.5,671.2 C1345.8,669.9 1343.1,669.4 1347.1,672.1 C1351.0,674.7 1350.9,675.6 1355.3,681.1 C1359.7,686.6 1359.2,687.4 1363.6,692.7 C1368.0,698.0 1367.4,696.1 1371.8,700.9 C1376.2,705.8 1375.2,705.8 1380.1,710.8 C1384.9,715.9 1384.2,716.0 1390.0,719.9 C1395.7,723.9 1395.4,723.9 1401.5,725.7 C1407.7,727.4 1406.5,726.3 1413.1,726.5 C1419.7,726.7 1421.4,727.0 1426.3,726.5 C1431.1,726.1 1429.9,725.3 1431.2,724.9" fill="none" stroke="#44a522" stroke-width="1.6"/>
</g>
<line x1="957.4" y1="754.2" x2="1431.7" y2="754.2" stroke="#e0402f" stroke-width="1.8"/>
<line x1="1431.7" y1="597.1" x2="1431.7" y2="762.2" stroke="#5a5a5a" stroke-width="1.4"/>
<line x1="1431.7" y1="754.2" x2="1438.7" y2="754.2" stroke="#5a5a5a" stroke-width="1.4"/>
<text x="1445.1" y="759.3" text-anchor="start" font-size="14.3" letter-spacing="0.4" fill="#2e2e2e">0</text>
<line x1="1431.7" y1="723.6" x2="1438.7" y2="723.6" stroke="#5a5a5a" stroke-width="1.4"/>
<text x="1445.1" y="728.7" text-anchor="start" font-size="14.3" letter-spacing="0.4" fill="#2e2e2e">60</text>
<line x1="1431.7" y1="692.7" x2="1438.7" y2="692.7" stroke="#5a5a5a" stroke-width="1.4"/>
<text x="1445.1" y="697.8" text-anchor="start" font-size="14.3" letter-spacing="0.4" fill="#2e2e2e">120</text>
<line x1="1431.7" y1="659.9" x2="1438.7" y2="659.9" stroke="#5a5a5a" stroke-width="1.4"/>
<text x="1445.1" y="665.0" text-anchor="start" font-size="14.3" letter-spacing="0.4" fill="#2e2e2e">180</text>
<line x1="1431.7" y1="628.7" x2="1438.7" y2="628.7" stroke="#5a5a5a" stroke-width="1.4"/>
<text x="1445.1" y="633.8" text-anchor="start" font-size="14.3" letter-spacing="0.4" fill="#2e2e2e">240</text>
<line x1="1431.7" y1="597.8" x2="1438.7" y2="597.8" stroke="#5a5a5a" stroke-width="1.4"/>
<text x="1445.1" y="602.9" text-anchor="start" font-size="14.3" letter-spacing="0.4" fill="#2e2e2e">300</text>
<line x1="957.4" y1="754.2" x2="957.4" y2="762.2" stroke="#5a5a5a" stroke-width="1.4"/>
<text x="957.6" y="785.0" text-anchor="start" font-size="14.3" letter-spacing="0.4" fill="#2e2e2e">0</text>
<line x1="1018.1" y1="754.2" x2="1018.1" y2="762.2" stroke="#5a5a5a" stroke-width="1.4"/>
<text x="1018.3" y="785.0" text-anchor="middle" font-size="14.3" letter-spacing="0.4" fill="#2e2e2e">45</text>
<line x1="1077.0" y1="754.2" x2="1077.0" y2="762.2" stroke="#5a5a5a" stroke-width="1.4"/>
<text x="1077.2" y="785.0" text-anchor="middle" font-size="14.3" letter-spacing="0.4" fill="#2e2e2e">90</text>
<line x1="1136.0" y1="754.2" x2="1136.0" y2="762.2" stroke="#5a5a5a" stroke-width="1.4"/>
<text x="1136.2" y="785.0" text-anchor="middle" font-size="14.3" letter-spacing="0.4" fill="#2e2e2e">135</text>
<line x1="1194.9" y1="754.2" x2="1194.9" y2="762.2" stroke="#5a5a5a" stroke-width="1.4"/>
<text x="1195.1" y="785.0" text-anchor="middle" font-size="14.3" letter-spacing="0.4" fill="#2e2e2e">180</text>
<line x1="1253.8" y1="754.2" x2="1253.8" y2="762.2" stroke="#5a5a5a" stroke-width="1.4"/>
<text x="1254.0" y="785.0" text-anchor="middle" font-size="14.3" letter-spacing="0.4" fill="#2e2e2e">225</text>
<line x1="1314.2" y1="754.2" x2="1314.2" y2="762.2" stroke="#5a5a5a" stroke-width="1.4"/>
<text x="1314.4" y="785.0" text-anchor="middle" font-size="14.3" letter-spacing="0.4" fill="#2e2e2e">270</text>
<line x1="1372.7" y1="754.2" x2="1372.7" y2="762.2" stroke="#5a5a5a" stroke-width="1.4"/>
<text x="1372.9" y="785.0" text-anchor="middle" font-size="14.3" letter-spacing="0.4" fill="#2e2e2e">315</text>
<line x1="1431.7" y1="754.2" x2="1431.7" y2="762.2" stroke="#5a5a5a" stroke-width="1.4"/>
<text x="1432.5" y="785.0" text-anchor="end" font-size="14.3" letter-spacing="0.4" fill="#2e2e2e">360</text>
<text x="957.7" y="809.6" text-anchor="start" font-size="15.5" font-weight="bold" fill="#151515">TMP</text>
<text x="1077.0" y="809.6" text-anchor="middle" font-size="15.5" font-weight="bold" fill="#151515">SUP</text>
<text x="1194.9" y="809.6" text-anchor="middle" font-size="15.5" font-weight="bold" fill="#151515">NAS</text>
<text x="1314.2" y="809.6" text-anchor="middle" font-size="15.5" font-weight="bold" fill="#151515">INF</text>
<text x="1432.0" y="809.6" text-anchor="end" font-size="15.5" font-weight="bold" fill="#151515">TMP</text>
<text x="1195.2" y="830.2" text-anchor="middle" font-size="14.8" fill="#2e2e2e">Position [°]</text>
<text transform="translate(1483.3,688.5) rotate(90)" text-anchor="middle" font-size="16.3" textLength="209" lengthAdjust="spacingAndGlyphs" fill="#2e2e2e">RNFL Thickness (12.0°) [µm]</text>

<path d="M957.3,743.0 C959.1,743.4 961.7,744.5 964.7,744.7 C967.8,744.8 968.0,745.0 970.5,743.8 C973.0,742.7 973.5,742.8 975.5,739.7 C977.4,736.6 977.4,732.7 978.8,730.6 C980.1,728.6 980.1,729.4 981.2,731.0 C982.4,732.5 982.4,734.4 983.7,737.2 C985.1,740.0 985.7,742.8 987.0,743.0 C988.4,743.2 988.1,743.6 989.5,738.1 C990.8,732.5 991.4,730.8 992.8,719.1 C994.1,707.3 994.1,700.8 995.3,687.7 C996.4,674.7 996.6,670.9 997.7,663.0 C998.9,655.1 999.1,655.9 1000.2,653.9 C1001.4,651.9 1001.5,651.1 1002.7,654.4 C1003.8,657.7 1004.0,659.8 1005.2,667.9 C1006.3,676.1 1006.5,679.0 1007.6,689.4 C1008.8,699.8 1009.0,703.6 1010.1,712.5 C1011.3,721.3 1011.2,722.1 1012.6,727.3 C1013.9,732.5 1014.0,731.9 1015.9,734.8 C1017.8,737.6 1018.5,738.2 1020.8,739.7 C1023.1,741.2 1023.3,741.2 1025.8,741.4 C1028.3,741.6 1029.3,742.7 1031.6,740.5 C1033.9,738.4 1033.8,738.1 1035.7,732.3 C1037.6,726.5 1038.1,721.0 1039.8,715.8 C1041.5,710.6 1041.8,711.2 1043.1,710.0 C1044.5,708.9 1044.2,707.6 1045.6,710.8 C1046.9,714.1 1047.2,717.7 1048.9,724.0 C1050.6,730.4 1051.3,734.4 1053.0,738.1 C1054.7,741.7 1054.8,740.3 1056.3,739.7 C1057.8,739.1 1058.1,738.9 1059.6,735.6 C1061.1,732.3 1061.5,728.8 1062.9,725.7 C1064.3,722.6 1064.4,722.0 1065.7,722.4 C1067.1,722.8 1067.0,723.9 1068.7,727.3 C1070.3,730.8 1071.1,734.2 1072.8,737.2 C1074.5,740.2 1074.4,740.0 1076.1,740.2 C1077.8,740.4 1078.1,741.1 1080.2,738.1 C1082.3,735.1 1083.1,732.7 1085.2,727.3 C1087.3,721.9 1087.6,718.0 1089.3,715.0 C1091.0,712.0 1091.1,712.3 1092.6,714.5 C1094.1,716.6 1094.4,720.8 1095.9,724.0 C1097.4,727.2 1097.7,727.4 1099.2,728.2 C1100.7,728.9 1101.0,729.8 1102.5,727.3 C1104.0,724.8 1104.5,720.5 1105.8,717.4 C1107.1,714.4 1106.9,713.0 1108.3,714.1 C1109.6,715.3 1109.8,717.8 1111.6,722.4 C1113.3,727.0 1114.0,731.6 1115.7,733.9 C1117.4,736.2 1117.5,733.4 1119.0,732.3 C1120.5,731.1 1120.8,729.4 1122.3,729.0 C1123.8,728.6 1124.1,728.7 1125.6,730.6 C1127.1,732.6 1127.4,735.7 1128.9,737.2 C1130.4,738.8 1130.5,739.9 1132.2,737.2 C1133.9,734.5 1134.6,729.1 1136.3,725.7 C1138.1,722.3 1138.1,721.9 1139.6,722.7 C1141.2,723.5 1141.2,725.2 1142.9,729.0 C1144.7,732.8 1145.3,736.1 1147.0,738.9 C1148.8,741.7 1148.8,741.1 1150.3,740.9 C1151.9,740.7 1151.9,740.8 1153.6,738.1 C1155.4,735.3 1155.8,732.3 1157.8,729.0 C1159.7,725.7 1160.2,724.2 1161.9,724.0 C1163.6,723.8 1163.5,725.5 1165.2,728.2 C1166.9,730.9 1167.2,732.5 1169.3,735.6 C1171.4,738.7 1172.0,739.9 1174.3,741.4 C1176.6,742.8 1176.7,742.4 1179.2,741.9 C1181.7,741.3 1182.5,739.6 1185.0,738.9 C1187.5,738.2 1187.6,738.3 1189.9,738.9 C1192.2,739.5 1192.5,740.6 1194.9,741.4 C1197.3,742.1 1197.2,741.9 1200.1,742.2 C1203.0,742.5 1204.8,743.3 1207.2,742.5 C1209.6,741.7 1209.0,742.4 1210.5,738.9 C1212.1,735.3 1212.3,731.6 1213.8,727.3 C1215.4,723.0 1215.8,721.4 1217.1,720.4 C1218.5,719.4 1218.2,719.7 1219.6,723.2 C1220.9,726.8 1221.2,731.0 1222.9,735.6 C1224.6,740.2 1224.7,741.3 1227.0,743.0 C1229.3,744.7 1230.7,745.5 1232.8,743.0 C1234.9,740.5 1234.6,738.3 1236.1,732.3 C1237.6,726.3 1238.0,722.1 1239.4,717.4 C1240.7,712.8 1240.7,712.5 1241.9,712.5 C1243.0,712.5 1243.0,713.8 1244.3,717.4 C1245.7,721.1 1246.1,725.3 1247.6,728.2 C1249.2,731.0 1249.4,730.8 1250.9,729.8 C1252.5,728.8 1252.5,728.1 1254.2,724.0 C1256.0,720.0 1256.6,716.0 1258.4,712.5 C1260.1,709.0 1260.3,708.8 1261.7,709.2 C1263.0,709.6 1262.8,709.9 1264.1,714.1 C1265.5,718.4 1265.9,722.5 1267.4,727.3 C1269.0,732.1 1269.2,732.4 1270.7,734.8 C1272.3,737.1 1272.1,737.6 1274.0,737.6 C1276.0,737.6 1276.3,735.8 1279.0,734.8 C1281.7,733.7 1282.1,733.5 1285.6,733.1 C1289.0,732.7 1290.6,733.7 1293.8,733.1 C1297.1,732.5 1297.5,733.1 1299.6,730.6 C1301.7,728.1 1301.4,726.2 1302.9,722.4 C1304.4,718.6 1304.7,716.0 1306.2,714.5 C1307.7,712.9 1308.0,715.3 1309.5,715.8 C1311.0,716.3 1311.3,718.5 1312.8,716.6 C1314.3,714.7 1314.4,712.5 1316.1,707.5 C1317.8,702.5 1318.3,699.1 1320.2,695.2 C1322.2,691.2 1322.6,692.1 1324.4,690.7 C1326.1,689.4 1326.3,688.9 1327.7,689.4 C1329.0,689.9 1328.8,689.6 1330.1,692.7 C1331.5,695.8 1331.9,697.2 1333.4,702.6 C1335.0,708.0 1335.0,710.2 1336.7,715.8 C1338.5,721.4 1338.7,721.9 1340.9,726.5 C1343.0,731.1 1343.3,732.2 1345.8,735.6 C1348.3,738.9 1348.3,739.5 1351.6,740.9 C1354.8,742.2 1356.6,741.5 1359.8,741.4 C1363.1,741.2 1363.3,740.1 1365.6,740.2 C1367.9,740.3 1366.8,741.9 1369.7,741.9 C1372.6,741.9 1374.1,740.2 1378.0,740.2 C1381.8,740.2 1382.8,741.6 1386.2,741.9 C1389.7,742.1 1390.1,742.2 1392.8,741.4 C1395.5,740.5 1395.5,739.5 1397.8,738.1 C1400.0,736.6 1400.7,735.1 1402.4,735.3 C1404.1,735.4 1403.6,737.1 1405.2,738.9 C1406.8,740.7 1406.0,741.9 1409.3,743.0 C1412.6,744.1 1414.0,743.4 1419.2,743.5 C1424.4,743.6 1428.7,743.5 1431.6,743.5" fill="none" stroke="#000" stroke-width="3.1" stroke-linejoin="round" stroke-linecap="round"/>
<clipPath id="cl620"><rect x="620.9" y="882.1" width="474.5" height="163.4"/></clipPath>
<line x1="620.9" y1="1013.3" x2="1094.8" y2="1013.3" stroke="#bdbdbd" stroke-width="1.4" opacity="0.85"/>
<line x1="620.9" y1="981.7" x2="1094.8" y2="981.7" stroke="#bdbdbd" stroke-width="1.4" opacity="0.85"/>
<line x1="620.9" y1="949.0" x2="1094.8" y2="949.0" stroke="#bdbdbd" stroke-width="1.4" opacity="0.85"/>
<line x1="620.9" y1="918.2" x2="1094.8" y2="918.2" stroke="#bdbdbd" stroke-width="1.4" opacity="0.85"/>
<line x1="620.9" y1="887.1" x2="1094.8" y2="887.1" stroke="#bdbdbd" stroke-width="1.4" opacity="0.85"/>
<line x1="680.1" y1="887.1" x2="680.1" y2="1044.5" stroke="#bdbdbd" stroke-width="1.4" opacity="0.85"/>
<line x1="739.4" y1="887.1" x2="739.4" y2="1044.5" stroke="#bdbdbd" stroke-width="1.4" opacity="0.85"/>
<line x1="798.6" y1="887.1" x2="798.6" y2="1044.5" stroke="#bdbdbd" stroke-width="1.4" opacity="0.85"/>
<line x1="917.1" y1="887.1" x2="917.1" y2="1044.5" stroke="#bdbdbd" stroke-width="1.4" opacity="0.85"/>
<line x1="976.3" y1="887.1" x2="976.3" y2="1044.5" stroke="#bdbdbd" stroke-width="1.4" opacity="0.85"/>
<line x1="1035.6" y1="887.1" x2="1035.6" y2="1044.5" stroke="#bdbdbd" stroke-width="1.4" opacity="0.85"/>
<line x1="620.9" y1="1044.5" x2="1094.8" y2="1044.5" stroke="#e0402f" stroke-width="1.8"/>
<line x1="620.9" y1="886.4" x2="620.9" y2="1052.5" stroke="#5a5a5a" stroke-width="1.4"/>
<line x1="613.4" y1="1044.5" x2="620.9" y2="1044.5" stroke="#5a5a5a" stroke-width="1.4"/>
<text x="607.7" y="1049.6" text-anchor="end" font-size="14.3" letter-spacing="0.4" fill="#2e2e2e">0</text>
<line x1="613.4" y1="1013.3" x2="620.9" y2="1013.3" stroke="#5a5a5a" stroke-width="1.4"/>
<text x="607.7" y="1018.4" text-anchor="end" font-size="14.3" letter-spacing="0.4" fill="#2e2e2e">60</text>
<line x1="613.4" y1="981.7" x2="620.9" y2="981.7" stroke="#5a5a5a" stroke-width="1.4"/>
<text x="607.7" y="986.8" text-anchor="end" font-size="14.3" letter-spacing="0.4" fill="#2e2e2e">120</text>
<line x1="613.4" y1="949.0" x2="620.9" y2="949.0" stroke="#5a5a5a" stroke-width="1.4"/>
<text x="607.7" y="954.1" text-anchor="end" font-size="14.3" letter-spacing="0.4" fill="#2e2e2e">180</text>
<line x1="613.4" y1="918.2" x2="620.9" y2="918.2" stroke="#5a5a5a" stroke-width="1.4"/>
<text x="607.7" y="923.3" text-anchor="end" font-size="14.3" letter-spacing="0.4" fill="#2e2e2e">240</text>
<line x1="613.4" y1="887.1" x2="620.9" y2="887.1" stroke="#5a5a5a" stroke-width="1.4"/>
<text x="607.7" y="892.2" text-anchor="end" font-size="14.3" letter-spacing="0.4" fill="#2e2e2e">300</text>
<line x1="620.9" y1="1044.5" x2="620.9" y2="1052.5" stroke="#5a5a5a" stroke-width="1.4"/>
<text x="621.1" y="1075.3" text-anchor="start" font-size="14.3" letter-spacing="0.4" fill="#2e2e2e">0</text>
<line x1="680.1" y1="1044.5" x2="680.1" y2="1052.5" stroke="#5a5a5a" stroke-width="1.4"/>
<text x="680.3" y="1075.3" text-anchor="middle" font-size="14.3" letter-spacing="0.4" fill="#2e2e2e">45</text>
<line x1="739.4" y1="1044.5" x2="739.4" y2="1052.5" stroke="#5a5a5a" stroke-width="1.4"/>
<text x="739.6" y="1075.3" text-anchor="middle" font-size="14.3" letter-spacing="0.4" fill="#2e2e2e">90</text>
<line x1="798.6" y1="1044.5" x2="798.6" y2="1052.5" stroke="#5a5a5a" stroke-width="1.4"/>
<text x="798.8" y="1075.3" text-anchor="middle" font-size="14.3" letter-spacing="0.4" fill="#2e2e2e">135</text>
<line x1="857.9" y1="1044.5" x2="857.9" y2="1052.5" stroke="#5a5a5a" stroke-width="1.4"/>
<text x="858.1" y="1075.3" text-anchor="middle" font-size="14.3" letter-spacing="0.4" fill="#2e2e2e">180</text>
<line x1="917.1" y1="1044.5" x2="917.1" y2="1052.5" stroke="#5a5a5a" stroke-width="1.4"/>
<text x="917.3" y="1075.3" text-anchor="middle" font-size="14.3" letter-spacing="0.4" fill="#2e2e2e">225</text>
<line x1="976.3" y1="1044.5" x2="976.3" y2="1052.5" stroke="#5a5a5a" stroke-width="1.4"/>
<text x="976.5" y="1075.3" text-anchor="middle" font-size="14.3" letter-spacing="0.4" fill="#2e2e2e">270</text>
<line x1="1035.6" y1="1044.5" x2="1035.6" y2="1052.5" stroke="#5a5a5a" stroke-width="1.4"/>
<text x="1035.8" y="1075.3" text-anchor="middle" font-size="14.3" letter-spacing="0.4" fill="#2e2e2e">315</text>
<line x1="1094.8" y1="1044.5" x2="1094.8" y2="1052.5" stroke="#5a5a5a" stroke-width="1.4"/>
<text x="1095.6" y="1075.3" text-anchor="end" font-size="14.3" letter-spacing="0.4" fill="#2e2e2e">360</text>
<text x="621.2" y="1099.9" text-anchor="start" font-size="15.5" font-weight="bold" fill="#151515">TMP</text>
<text x="739.4" y="1099.9" text-anchor="middle" font-size="15.5" font-weight="bold" fill="#151515">SUP</text>
<text x="857.9" y="1099.9" text-anchor="middle" font-size="15.5" font-weight="bold" fill="#151515">NAS</text>
<text x="976.3" y="1099.9" text-anchor="middle" font-size="15.5" font-weight="bold" fill="#151515">INF</text>
<text x="1095.1" y="1099.9" text-anchor="end" font-size="15.5" font-weight="bold" fill="#151515">TMP</text>
<text x="858.2" y="1120.5" text-anchor="middle" font-size="14.8" fill="#2e2e2e">Position [°]</text>
<text transform="translate(569.3,979.8) rotate(-90)" text-anchor="middle" font-size="16.3" textLength="209" lengthAdjust="spacingAndGlyphs" fill="#2e2e2e">RNFL Thickness (12.0°) [µm]</text>
<path d="M620.9,1033.2 C622.7,1033.6 625.3,1034.7 628.3,1034.9 C631.4,1035.0 631.6,1035.2 634.1,1034.0 C636.6,1032.9 637.1,1033.0 639.1,1029.9 C641.0,1026.8 641.0,1022.9 642.4,1020.8 C643.7,1018.8 643.7,1019.6 644.8,1021.2 C646.0,1022.7 646.0,1024.6 647.3,1027.4 C648.7,1030.2 649.3,1033.0 650.6,1033.2 C652.0,1033.4 651.7,1033.8 653.1,1028.3 C654.4,1022.7 655.0,1021.0 656.4,1009.3 C657.7,997.5 657.7,991.0 658.9,977.9 C660.0,964.9 660.2,961.1 661.3,953.2 C662.5,945.3 662.7,946.1 663.8,944.1 C665.0,942.1 665.1,941.3 666.3,944.6 C667.4,947.9 667.6,950.0 668.8,958.1 C669.9,966.3 670.1,969.2 671.2,979.6 C672.4,990.0 672.6,993.8 673.7,1002.7 C674.9,1011.5 674.8,1012.3 676.2,1017.5 C677.5,1022.7 677.6,1022.1 679.5,1025.0 C681.4,1027.8 682.1,1028.4 684.4,1029.9 C686.7,1031.4 686.9,1031.4 689.4,1031.6 C691.9,1031.8 692.9,1032.9 695.2,1030.7 C697.5,1028.6 697.4,1028.3 699.3,1022.5 C701.2,1016.7 701.7,1011.2 703.4,1006.0 C705.1,1000.8 705.4,1001.4 706.7,1000.2 C708.1,999.1 707.8,997.8 709.2,1001.0 C710.5,1004.3 710.8,1007.9 712.5,1014.2 C714.2,1020.6 714.9,1024.6 716.6,1028.3 C718.3,1031.9 718.4,1030.5 719.9,1029.9 C721.4,1029.3 721.7,1029.1 723.2,1025.8 C724.7,1022.5 725.1,1019.0 726.5,1015.9 C727.9,1012.8 728.0,1012.2 729.3,1012.6 C730.7,1013.0 730.6,1014.1 732.3,1017.5 C733.9,1021.0 734.7,1024.4 736.4,1027.4 C738.1,1030.4 738.0,1030.2 739.7,1030.4 C741.4,1030.6 741.7,1031.3 743.8,1028.3 C745.9,1025.3 746.7,1022.9 748.8,1017.5 C750.9,1012.1 751.2,1008.2 752.9,1005.2 C754.6,1002.2 754.7,1002.5 756.2,1004.7 C757.7,1006.8 758.0,1011.0 759.5,1014.2 C761.0,1017.4 761.3,1017.6 762.8,1018.4 C764.3,1019.1 764.6,1020.0 766.1,1017.5 C767.6,1015.0 768.1,1010.7 769.4,1007.6 C770.7,1004.6 770.5,1003.2 771.9,1004.3 C773.2,1005.5 773.4,1008.0 775.2,1012.6 C776.9,1017.2 777.6,1021.8 779.3,1024.1 C781.0,1026.4 781.1,1023.6 782.6,1022.5 C784.1,1021.3 784.4,1019.6 785.9,1019.2 C787.4,1018.8 787.7,1018.9 789.2,1020.8 C790.7,1022.8 791.0,1025.9 792.5,1027.4 C794.0,1029.0 794.1,1030.1 795.8,1027.4 C797.5,1024.7 798.2,1019.3 799.9,1015.9 C801.7,1012.5 801.7,1012.1 803.2,1012.9 C804.8,1013.7 804.8,1015.4 806.5,1019.2 C808.3,1023.0 808.9,1026.3 810.6,1029.1 C812.4,1031.9 812.4,1031.3 813.9,1031.1 C815.5,1030.9 815.5,1031.0 817.2,1028.3 C819.0,1025.5 819.4,1022.5 821.4,1019.2 C823.3,1015.9 823.8,1014.4 825.5,1014.2 C827.2,1014.0 827.1,1015.7 828.8,1018.4 C830.5,1021.1 830.8,1022.7 832.9,1025.8 C835.0,1028.9 835.6,1030.1 837.9,1031.6 C840.2,1033.0 840.3,1032.6 842.8,1032.1 C845.3,1031.5 846.1,1029.8 848.6,1029.1 C851.1,1028.4 851.2,1028.5 853.5,1029.1 C855.8,1029.7 856.1,1030.8 858.5,1031.6 C860.9,1032.3 860.8,1032.1 863.7,1032.4 C866.6,1032.7 868.4,1033.5 870.8,1032.7 C873.2,1031.9 872.6,1032.6 874.1,1029.1 C875.7,1025.5 875.9,1021.8 877.4,1017.5 C879.0,1013.2 879.4,1011.6 880.7,1010.6 C882.1,1009.6 881.8,1009.9 883.2,1013.4 C884.5,1017.0 884.8,1021.2 886.5,1025.8 C888.2,1030.4 888.3,1031.5 890.6,1033.2 C892.9,1034.9 894.3,1035.7 896.4,1033.2 C898.5,1030.7 898.2,1028.5 899.7,1022.5 C901.2,1016.5 901.6,1012.3 903.0,1007.6 C904.3,1003.0 904.3,1002.7 905.5,1002.7 C906.6,1002.7 906.6,1004.0 907.9,1007.6 C909.3,1011.3 909.7,1015.5 911.2,1018.4 C912.8,1021.2 913.0,1021.0 914.5,1020.0 C916.1,1019.0 916.1,1018.3 917.8,1014.2 C919.6,1010.2 920.2,1006.2 922.0,1002.7 C923.7,999.2 923.9,999.0 925.3,999.4 C926.6,999.8 926.4,1000.1 927.7,1004.3 C929.1,1008.6 929.5,1012.7 931.0,1017.5 C932.6,1022.3 932.8,1022.6 934.3,1025.0 C935.9,1027.3 935.7,1027.8 937.6,1027.8 C939.6,1027.8 939.9,1026.0 942.6,1025.0 C945.3,1023.9 945.7,1023.7 949.2,1023.3 C952.6,1022.9 954.2,1023.9 957.4,1023.3 C960.7,1022.7 961.1,1023.3 963.2,1020.8 C965.3,1018.3 965.0,1016.4 966.5,1012.6 C968.0,1008.8 968.3,1006.2 969.8,1004.7 C971.3,1003.1 971.6,1005.5 973.1,1006.0 C974.6,1006.5 974.9,1008.7 976.4,1006.8 C977.9,1004.9 978.0,1002.7 979.7,997.7 C981.4,992.7 981.9,989.3 983.8,985.4 C985.8,981.4 986.2,982.3 988.0,980.9 C989.7,979.6 989.9,979.1 991.3,979.6 C992.6,980.1 992.4,979.8 993.7,982.9 C995.1,986.0 995.5,987.4 997.0,992.8 C998.6,998.2 998.6,1000.4 1000.3,1006.0 C1002.1,1011.6 1002.3,1012.1 1004.5,1016.7 C1006.6,1021.3 1006.9,1022.4 1009.4,1025.8 C1011.9,1029.1 1011.9,1029.7 1015.2,1031.1 C1018.4,1032.4 1020.2,1031.7 1023.4,1031.6 C1026.7,1031.4 1026.9,1030.3 1029.2,1030.4 C1031.5,1030.5 1030.4,1032.1 1033.3,1032.1 C1036.2,1032.1 1037.7,1030.4 1041.6,1030.4 C1045.4,1030.4 1046.4,1031.8 1049.8,1032.1 C1053.3,1032.3 1053.7,1032.4 1056.4,1031.6 C1059.1,1030.7 1059.1,1029.7 1061.4,1028.3 C1063.6,1026.8 1064.3,1025.3 1066.0,1025.5 C1067.7,1025.6 1067.2,1027.3 1068.8,1029.1 C1070.4,1030.9 1069.6,1032.1 1072.9,1033.2 C1076.2,1034.3 1077.6,1033.6 1082.8,1033.7 C1088.0,1033.8 1092.3,1033.7 1095.2,1033.7" fill="none" stroke="#858585" stroke-width="2.3" stroke-linejoin="round"/><path d="M620.9,1033.7 C622.0,1034.0 621.7,1034.6 625.5,1034.9 C629.3,1035.1 633.2,1035.4 637.0,1034.9 C640.9,1034.3 639.9,1034.9 642.0,1032.4 C644.1,1029.9 643.8,1025.9 646.1,1024.1 C648.4,1022.4 649.2,1025.0 651.9,1025.0 C654.6,1024.9 655.2,1023.0 657.7,1023.8 C660.2,1024.6 660.5,1026.4 662.6,1028.3 C664.7,1030.1 664.8,1031.8 666.7,1031.6 C668.7,1031.4 668.9,1031.5 670.9,1027.4 C672.8,1023.4 672.9,1019.3 675.0,1014.2 C677.1,1009.2 677.2,1006.6 679.9,1005.7 C682.6,1004.7 683.1,1010.3 686.5,1010.1 C690.0,1009.9 691.9,1004.5 694.8,1004.7 C697.7,1004.9 697.0,1007.0 698.9,1010.9 C700.8,1014.9 701.3,1018.5 703.0,1021.7 C704.8,1024.8 703.6,1023.8 706.3,1024.5 C709.0,1025.1 710.3,1025.1 714.6,1024.5 C718.8,1023.8 721.0,1023.1 724.5,1021.7 C727.9,1020.2 726.7,1019.1 729.4,1018.4 C732.1,1017.6 733.0,1019.7 736.0,1018.4 C739.1,1017.0 738.8,1015.5 742.6,1012.6 C746.5,1009.7 748.7,1006.4 752.5,1006.0 C756.4,1005.5 755.9,1012.1 759.1,1010.6 C762.4,1009.1 762.9,1001.7 766.6,999.4 C770.2,997.1 771.9,1002.2 774.8,1000.7 C777.7,999.2 777.0,996.2 778.9,992.8 C780.8,989.4 781.1,986.6 783.0,986.2 C785.0,985.8 785.1,988.6 787.2,991.1 C789.3,993.6 789.8,995.8 792.1,996.9 C794.4,998.1 794.6,996.7 797.1,996.1 C799.6,995.4 800.7,993.3 802.8,994.1 C805.0,994.9 804.2,994.7 806.1,999.4 C808.1,1004.1 808.8,1008.5 811.1,1014.2 C813.4,1019.9 813.9,1022.3 816.0,1023.8 C818.2,1025.3 818.0,1022.3 820.2,1020.8 C822.3,1019.4 822.2,1017.7 825.1,1017.5 C828.0,1017.3 829.5,1020.5 832.5,1020.0 C835.6,1019.5 834.7,1015.9 838.3,1015.6 C842.0,1015.2 844.4,1017.6 848.2,1018.4 C852.1,1019.1 851.9,1018.5 854.8,1018.9 C857.7,1019.2 857.3,1020.4 860.6,1020.0 C863.8,1019.6 865.0,1017.6 868.8,1017.2 C872.6,1016.8 873.2,1019.8 877.0,1018.4 C880.9,1016.9 881.6,1011.7 885.3,1010.9 C889.0,1010.2 888.9,1014.4 892.7,1015.1 C896.6,1015.8 897.7,1013.1 901.8,1013.9 C905.8,1014.7 906.6,1018.5 910.0,1018.4 C913.5,1018.2 913.2,1016.7 916.6,1013.4 C920.1,1010.1 921.4,1007.2 924.9,1004.3 C928.4,1001.5 927.6,1003.7 931.5,1001.0 C935.3,998.3 937.5,993.8 941.4,992.8 C945.2,991.8 944.5,994.8 948.0,996.9 C951.4,999.0 952.4,1000.9 956.2,1001.9 C960.1,1002.8 961.0,1000.8 964.5,1001.0 C967.9,1001.2 968.4,1001.7 971.1,1002.7 C973.8,1003.6 973.7,1006.3 976.0,1005.2 C978.3,1004.0 978.7,1001.0 981.0,997.7 C983.3,994.5 983.2,993.6 985.9,991.1 C988.6,988.6 989.8,990.1 992.5,987.0 C995.2,983.9 995.2,983.5 997.5,977.9 C999.8,972.4 1000.1,967.3 1002.4,963.1 C1004.7,958.9 1005.1,960.0 1007.4,959.8 C1009.7,959.6 1010.0,959.6 1012.3,962.3 C1014.6,965.0 1014.6,966.9 1017.3,971.3 C1020.0,975.8 1021.2,977.6 1023.9,981.2 C1026.6,984.9 1026.9,985.5 1028.8,987.0 C1030.7,988.6 1030.2,987.8 1032.1,987.8 C1034.0,987.8 1034.4,984.3 1037.1,987.0 C1039.8,989.7 1040.2,995.2 1043.7,999.4 C1047.1,1003.6 1048.5,1002.1 1051.9,1005.2 C1055.4,1008.2 1055.1,1009.7 1058.5,1012.6 C1062.0,1015.5 1062.5,1014.8 1066.8,1017.5 C1071.0,1020.2 1072.4,1021.2 1076.7,1024.1 C1080.9,1027.0 1080.7,1027.8 1084.9,1029.9 C1089.1,1032.0 1092.5,1032.4 1094.8,1033.2" fill="none" stroke="#000" stroke-width="2.8" stroke-linejoin="round"/>
<line x1="621.3" y1="877.2" x2="771.3" y2="877.2" stroke="#111" stroke-width="2"/>
<text x="777.5" y="884.3" font-size="25" fill="#111">OD</text>
<line x1="902.2" y1="877.6" x2="1051" y2="877.6" stroke="#8c8c8c" stroke-width="1.6"/>
<text x="1058" y="884.3" font-size="25" fill="#9c9c9c">OS</text>
<path d="M643,538.7 V848.7 H465.3 V1137 H1122 V848.7 H944.2 V538.7" fill="none" stroke="#2a2a2a" stroke-width="1.4"/>
<rect x="655.7" y="598.7" width="277.3" height="39.8" fill="#d2f99c"/>
<path d="M932.3,600.2 V638.0 H656.5" fill="none" stroke="#45453a" stroke-width="1.7" opacity="0.85"/>
<text x="662.3" y="614.0" font-size="15" font-weight="bold" textLength="224.6" lengthAdjust="spacingAndGlyphs" fill="#111">Within Normal Limits (p&gt;0.05)</text>
<rect x="655.7" y="651.5" width="277.3" height="39.8" fill="#fffb9e"/>
<path d="M932.3,653.0 V690.8 H656.5" fill="none" stroke="#45453a" stroke-width="1.7" opacity="0.85"/>
<text x="662.3" y="666.8" font-size="15" font-weight="bold" textLength="146.0" lengthAdjust="spacingAndGlyphs" fill="#111">Borderline (p&lt;0.05)</text>
<rect x="655.7" y="703.8" width="277.3" height="39.8" fill="#f19c8e"/>
<path d="M932.3,705.3 V743.1 H656.5" fill="none" stroke="#45453a" stroke-width="1.7" opacity="0.85"/>
<text x="662.3" y="719.1" font-size="15" font-weight="bold" textLength="237.4" lengthAdjust="spacingAndGlyphs" fill="#111">Outside Normal Limits (p&lt;0.01)</text>
<path d="M184.00,965.80 L258.46,891.34 A105.30,105.30 0 0 0 109.54,891.34 Z" fill="#f19c8e"/><path d="M184.00,965.80 L258.46,1040.26 A105.30,105.30 0 0 0 258.46,891.34 Z" fill="#d2f99c"/><path d="M184.00,965.80 L109.54,1040.26 A105.30,105.30 0 0 0 258.46,1040.26 Z" fill="#d2f99c"/><path d="M184.00,965.80 L109.54,891.34 A105.30,105.30 0 0 0 109.54,1040.26 Z" fill="#fffb9e"/><path d="M107.5,889.3 L260.5,1042.3 M107.5,1042.3 L260.5,889.3" stroke="#fff" stroke-width="4.6"/><circle cx="184.0" cy="965.8" r="33.5" fill="#fff"/><circle cx="184.0" cy="965.8" r="105.3" fill="none" stroke="#30301f" stroke-width="1.3"/><text x="184.3" y="888.6" text-anchor="middle" font-size="10.3" font-weight="bold" fill="#111">S</text><text x="184.3" y="903.6" text-anchor="middle" font-size="10.8" fill="#2a2a2a" stroke="#2a2a2a" stroke-width="0.25">69</text><text x="111.4" y="962.6" text-anchor="middle" font-size="10.3" font-weight="bold" fill="#111">T</text><text x="111.4" y="977.6" text-anchor="middle" font-size="10.8" fill="#2a2a2a" stroke="#2a2a2a" stroke-width="0.25">46</text><text x="258.2" y="962.6" text-anchor="middle" font-size="10.3" font-weight="bold" fill="#111">N</text><text x="258.2" y="977.6" text-anchor="middle" font-size="10.8" fill="#2a2a2a" stroke="#2a2a2a" stroke-width="0.25">57</text><text x="184.6" y="1036.3" text-anchor="middle" font-size="10.3" font-weight="bold" fill="#111">I</text><text x="184.6" y="1051.3" text-anchor="middle" font-size="10.8" fill="#2a2a2a" stroke="#2a2a2a" stroke-width="0.25">103</text><path d="M1402.20,965.80 L1476.66,891.34 A105.30,105.30 0 0 0 1327.74,891.34 Z" fill="#f19c8e"/><path d="M1402.20,965.80 L1476.66,1040.26 A105.30,105.30 0 0 0 1476.66,891.34 Z" fill="#fffb9e"/><path d="M1402.20,965.80 L1327.74,1040.26 A105.30,105.30 0 0 0 1476.66,1040.26 Z" fill="#f19c8e"/><path d="M1402.20,965.80 L1327.74,891.34 A105.30,105.30 0 0 0 1327.74,1040.26 Z" fill="#fffb9e"/><path d="M1325.7,889.3 L1478.7,1042.3 M1325.7,1042.3 L1478.7,889.3" stroke="#fff" stroke-width="4.6"/><circle cx="1402.2" cy="965.8" r="33.5" fill="#fff"/><circle cx="1402.2" cy="965.8" r="105.3" fill="none" stroke="#30301f" stroke-width="1.3"/><text x="1402.0" y="888.6" text-anchor="middle" font-size="10.3" font-weight="bold" fill="#111">S</text><text x="1402.0" y="903.6" text-anchor="middle" font-size="10.8" fill="#2a2a2a" stroke="#2a2a2a" stroke-width="0.25">48</text><text x="1328.8" y="962.6" text-anchor="middle" font-size="10.3" font-weight="bold" fill="#111">N</text><text x="1328.8" y="977.6" text-anchor="middle" font-size="10.8" fill="#2a2a2a" stroke="#2a2a2a" stroke-width="0.25">40</text><text x="1477.0" y="962.6" text-anchor="middle" font-size="10.3" font-weight="bold" fill="#111">T</text><text x="1477.0" y="977.6" text-anchor="middle" font-size="10.8" fill="#2a2a2a" stroke="#2a2a2a" stroke-width="0.25">46</text><text x="1402.3" y="1036.3" text-anchor="middle" font-size="10.3" font-weight="bold" fill="#111">I</text><text x="1402.3" y="1051.3" text-anchor="middle" font-size="10.8" fill="#2a2a2a" stroke="#2a2a2a" stroke-width="0.25">59</text><path d="M184.20,1201.30 L184.20,1095.80 A105.50,105.50 0 0 0 109.60,1126.70 Z" fill="#f19c8e"/><path d="M184.20,1201.30 L258.80,1126.70 A105.50,105.50 0 0 0 184.20,1095.80 Z" fill="#d2f99c"/><path d="M184.20,1201.30 L258.80,1275.90 A105.50,105.50 0 0 0 258.80,1126.70 Z" fill="#d2f99c"/><path d="M184.20,1201.30 L184.20,1306.80 A105.50,105.50 0 0 0 258.80,1275.90 Z" fill="#d2f99c"/><path d="M184.20,1201.30 L109.60,1275.90 A105.50,105.50 0 0 0 184.20,1306.80 Z" fill="#d2f99c"/><path d="M184.20,1201.30 L109.60,1126.70 A105.50,105.50 0 0 0 109.60,1275.90 Z" fill="#fffb9e"/><path d="M107.6,1124.7 L260.8,1277.9 M107.6,1277.9 L260.8,1124.7" stroke="#fff" stroke-width="4.6"/><path d="M184.5,1094.8 V1307.8" stroke="#fff" stroke-width="5"/><circle cx="184.2" cy="1201.3" r="33.6" fill="#fff"/><circle cx="184.2" cy="1201.3" r="29" fill="#f19c8e"/><circle cx="184.2" cy="1201.3" r="105.5" fill="none" stroke="#30301f" stroke-width="1.3"/><text x="156.1" y="1124.0" text-anchor="middle" font-size="10.3" font-weight="bold" fill="#111">TS</text><text x="156.1" y="1139.0" text-anchor="middle" font-size="10.8" fill="#2a2a2a" stroke="#2a2a2a" stroke-width="0.25">55</text><text x="156.1" y="1154.0" text-anchor="middle" font-size="10.8" fill="#4c9c2c" stroke="#4c9c2c" stroke-width="0.25">(132)</text><text x="212.6" y="1124.0" text-anchor="middle" font-size="10.3" font-weight="bold" fill="#111">NS</text><text x="212.6" y="1139.0" text-anchor="middle" font-size="10.8" fill="#2a2a2a" stroke="#2a2a2a" stroke-width="0.25">83</text><text x="212.6" y="1154.0" text-anchor="middle" font-size="10.8" fill="#4c9c2c" stroke="#4c9c2c" stroke-width="0.25">(102)</text><text x="111.6" y="1192.4" text-anchor="middle" font-size="10.3" font-weight="bold" fill="#111">T</text><text x="111.6" y="1207.4" text-anchor="middle" font-size="10.8" fill="#2a2a2a" stroke="#2a2a2a" stroke-width="0.25">46</text><text x="111.6" y="1222.4" text-anchor="middle" font-size="10.8" fill="#4c9c2c" stroke="#4c9c2c" stroke-width="0.25">(73)</text><text x="184.4" y="1192.4" text-anchor="middle" font-size="10.3" font-weight="bold" fill="#111">G</text><text x="184.4" y="1207.4" text-anchor="middle" font-size="10.8" fill="#2a2a2a" stroke="#2a2a2a" stroke-width="0.25">69</text><text x="184.4" y="1222.4" text-anchor="middle" font-size="10.8" fill="#4c9c2c" stroke="#4c9c2c" stroke-width="0.25">(96)</text><text x="258.3" y="1192.4" text-anchor="middle" font-size="10.3" font-weight="bold" fill="#111">N</text><text x="258.3" y="1207.4" text-anchor="middle" font-size="10.8" fill="#2a2a2a" stroke="#2a2a2a" stroke-width="0.25">57</text><text x="258.3" y="1222.4" text-anchor="middle" font-size="10.8" fill="#4c9c2c" stroke="#4c9c2c" stroke-width="0.25">(72)</text><text x="156.1" y="1260.5" text-anchor="middle" font-size="10.3" font-weight="bold" fill="#111">TI</text><text x="156.1" y="1275.5" text-anchor="middle" font-size="10.8" fill="#2a2a2a" stroke="#2a2a2a" stroke-width="0.25">123</text><text x="156.1" y="1290.5" text-anchor="middle" font-size="10.8" fill="#4c9c2c" stroke="#4c9c2c" stroke-width="0.25">(139)</text><text x="212.6" y="1260.5" text-anchor="middle" font-size="10.3" font-weight="bold" fill="#111">NI</text><text x="212.6" y="1275.5" text-anchor="middle" font-size="10.8" fill="#2a2a2a" stroke="#2a2a2a" stroke-width="0.25">83</text><text x="212.6" y="1290.5" text-anchor="middle" font-size="10.8" fill="#4c9c2c" stroke="#4c9c2c" stroke-width="0.25">(105)</text><path d="M1402.40,1201.30 L1402.40,1095.80 A105.50,105.50 0 0 0 1327.80,1126.70 Z" fill="#f19c8e"/><path d="M1402.40,1201.30 L1477.00,1126.70 A105.50,105.50 0 0 0 1402.40,1095.80 Z" fill="#f19c8e"/><path d="M1402.40,1201.30 L1477.00,1275.90 A105.50,105.50 0 0 0 1477.00,1126.70 Z" fill="#fffb9e"/><path d="M1402.40,1201.30 L1402.40,1306.80 A105.50,105.50 0 0 0 1477.00,1275.90 Z" fill="#f19c8e"/><path d="M1402.40,1201.30 L1327.80,1275.90 A105.50,105.50 0 0 0 1402.40,1306.80 Z" fill="#fffb9e"/><path d="M1402.40,1201.30 L1327.80,1126.70 A105.50,105.50 0 0 0 1327.80,1275.90 Z" fill="#fffb9e"/><path d="M1325.8,1124.7 L1479.0,1277.9 M1325.8,1277.9 L1479.0,1124.7" stroke="#fff" stroke-width="4.6"/><path d="M1402.7,1094.8 V1307.8" stroke="#fff" stroke-width="5"/><circle cx="1402.4" cy="1201.3" r="33.6" fill="#fff"/><circle cx="1402.4" cy="1201.3" r="29" fill="#f19c8e"/><circle cx="1402.4" cy="1201.3" r="105.5" fill="none" stroke="#30301f" stroke-width="1.3"/><text x="1374.1" y="1124.0" text-anchor="middle" font-size="10.3" font-weight="bold" fill="#111">NS</text><text x="1374.1" y="1139.0" text-anchor="middle" font-size="10.8" fill="#2a2a2a" stroke="#2a2a2a" stroke-width="0.25">52</text><text x="1374.1" y="1154.0" text-anchor="middle" font-size="10.8" fill="#4c9c2c" stroke="#4c9c2c" stroke-width="0.25">(102)</text><text x="1430.4" y="1124.0" text-anchor="middle" font-size="10.3" font-weight="bold" fill="#111">TS</text><text x="1430.4" y="1139.0" text-anchor="middle" font-size="10.8" fill="#2a2a2a" stroke="#2a2a2a" stroke-width="0.25">45</text><text x="1430.4" y="1154.0" text-anchor="middle" font-size="10.8" fill="#4c9c2c" stroke="#4c9c2c" stroke-width="0.25">(132)</text><text x="1328.8" y="1192.4" text-anchor="middle" font-size="10.3" font-weight="bold" fill="#111">N</text><text x="1328.8" y="1207.4" text-anchor="middle" font-size="10.8" fill="#2a2a2a" stroke="#2a2a2a" stroke-width="0.25">40</text><text x="1328.8" y="1222.4" text-anchor="middle" font-size="10.8" fill="#4c9c2c" stroke="#4c9c2c" stroke-width="0.25">(72)</text><text x="1402.4" y="1192.4" text-anchor="middle" font-size="10.3" font-weight="bold" fill="#111">G</text><text x="1402.4" y="1207.4" text-anchor="middle" font-size="10.8" fill="#2a2a2a" stroke="#2a2a2a" stroke-width="0.25">48</text><text x="1402.4" y="1222.4" text-anchor="middle" font-size="10.8" fill="#4c9c2c" stroke="#4c9c2c" stroke-width="0.25">(96)</text><text x="1477.0" y="1192.4" text-anchor="middle" font-size="10.3" font-weight="bold" fill="#111">T</text><text x="1477.0" y="1207.4" text-anchor="middle" font-size="10.8" fill="#2a2a2a" stroke="#2a2a2a" stroke-width="0.25">46</text><text x="1477.0" y="1222.4" text-anchor="middle" font-size="10.8" fill="#4c9c2c" stroke="#4c9c2c" stroke-width="0.25">(73)</text><text x="1374.1" y="1260.5" text-anchor="middle" font-size="10.3" font-weight="bold" fill="#111">NI</text><text x="1374.1" y="1275.5" text-anchor="middle" font-size="10.8" fill="#2a2a2a" stroke="#2a2a2a" stroke-width="0.25">55</text><text x="1374.1" y="1290.5" text-anchor="middle" font-size="10.8" fill="#4c9c2c" stroke="#4c9c2c" stroke-width="0.25">(105)</text><text x="1430.4" y="1260.5" text-anchor="middle" font-size="10.3" font-weight="bold" fill="#111">TI</text><text x="1430.4" y="1275.5" text-anchor="middle" font-size="10.8" fill="#2a2a2a" stroke="#2a2a2a" stroke-width="0.25">63</text><text x="1430.4" y="1290.5" text-anchor="middle" font-size="10.8" fill="#4c9c2c" stroke="#4c9c2c" stroke-width="0.25">(139)</text>
<text x="486.8" y="1259.3" text-anchor="middle" font-size="26" textLength="189.5" lengthAdjust="spacingAndGlyphs" fill="#151515">Classification OD</text><rect x="303.2" y="1269" width="368.3" height="51.8" fill="#f19c8e" stroke="#d8867a" stroke-width="1"/><text x="487.4" y="1305" text-anchor="middle" font-size="26" textLength="241.5" lengthAdjust="spacingAndGlyphs" fill="#151515">Outside Normal Limits</text><text x="1099.3" y="1259.3" text-anchor="middle" font-size="26" textLength="189.5" lengthAdjust="spacingAndGlyphs" fill="#151515">Classification OS</text><rect x="915.2" y="1269" width="368.3" height="51.8" fill="#f19c8e" stroke="#d8867a" stroke-width="1"/><text x="1099.4" y="1305" text-anchor="middle" font-size="26" textLength="241.5" lengthAdjust="spacingAndGlyphs" fill="#151515">Outside Normal Limits</text>
</svg>
</body></html>
